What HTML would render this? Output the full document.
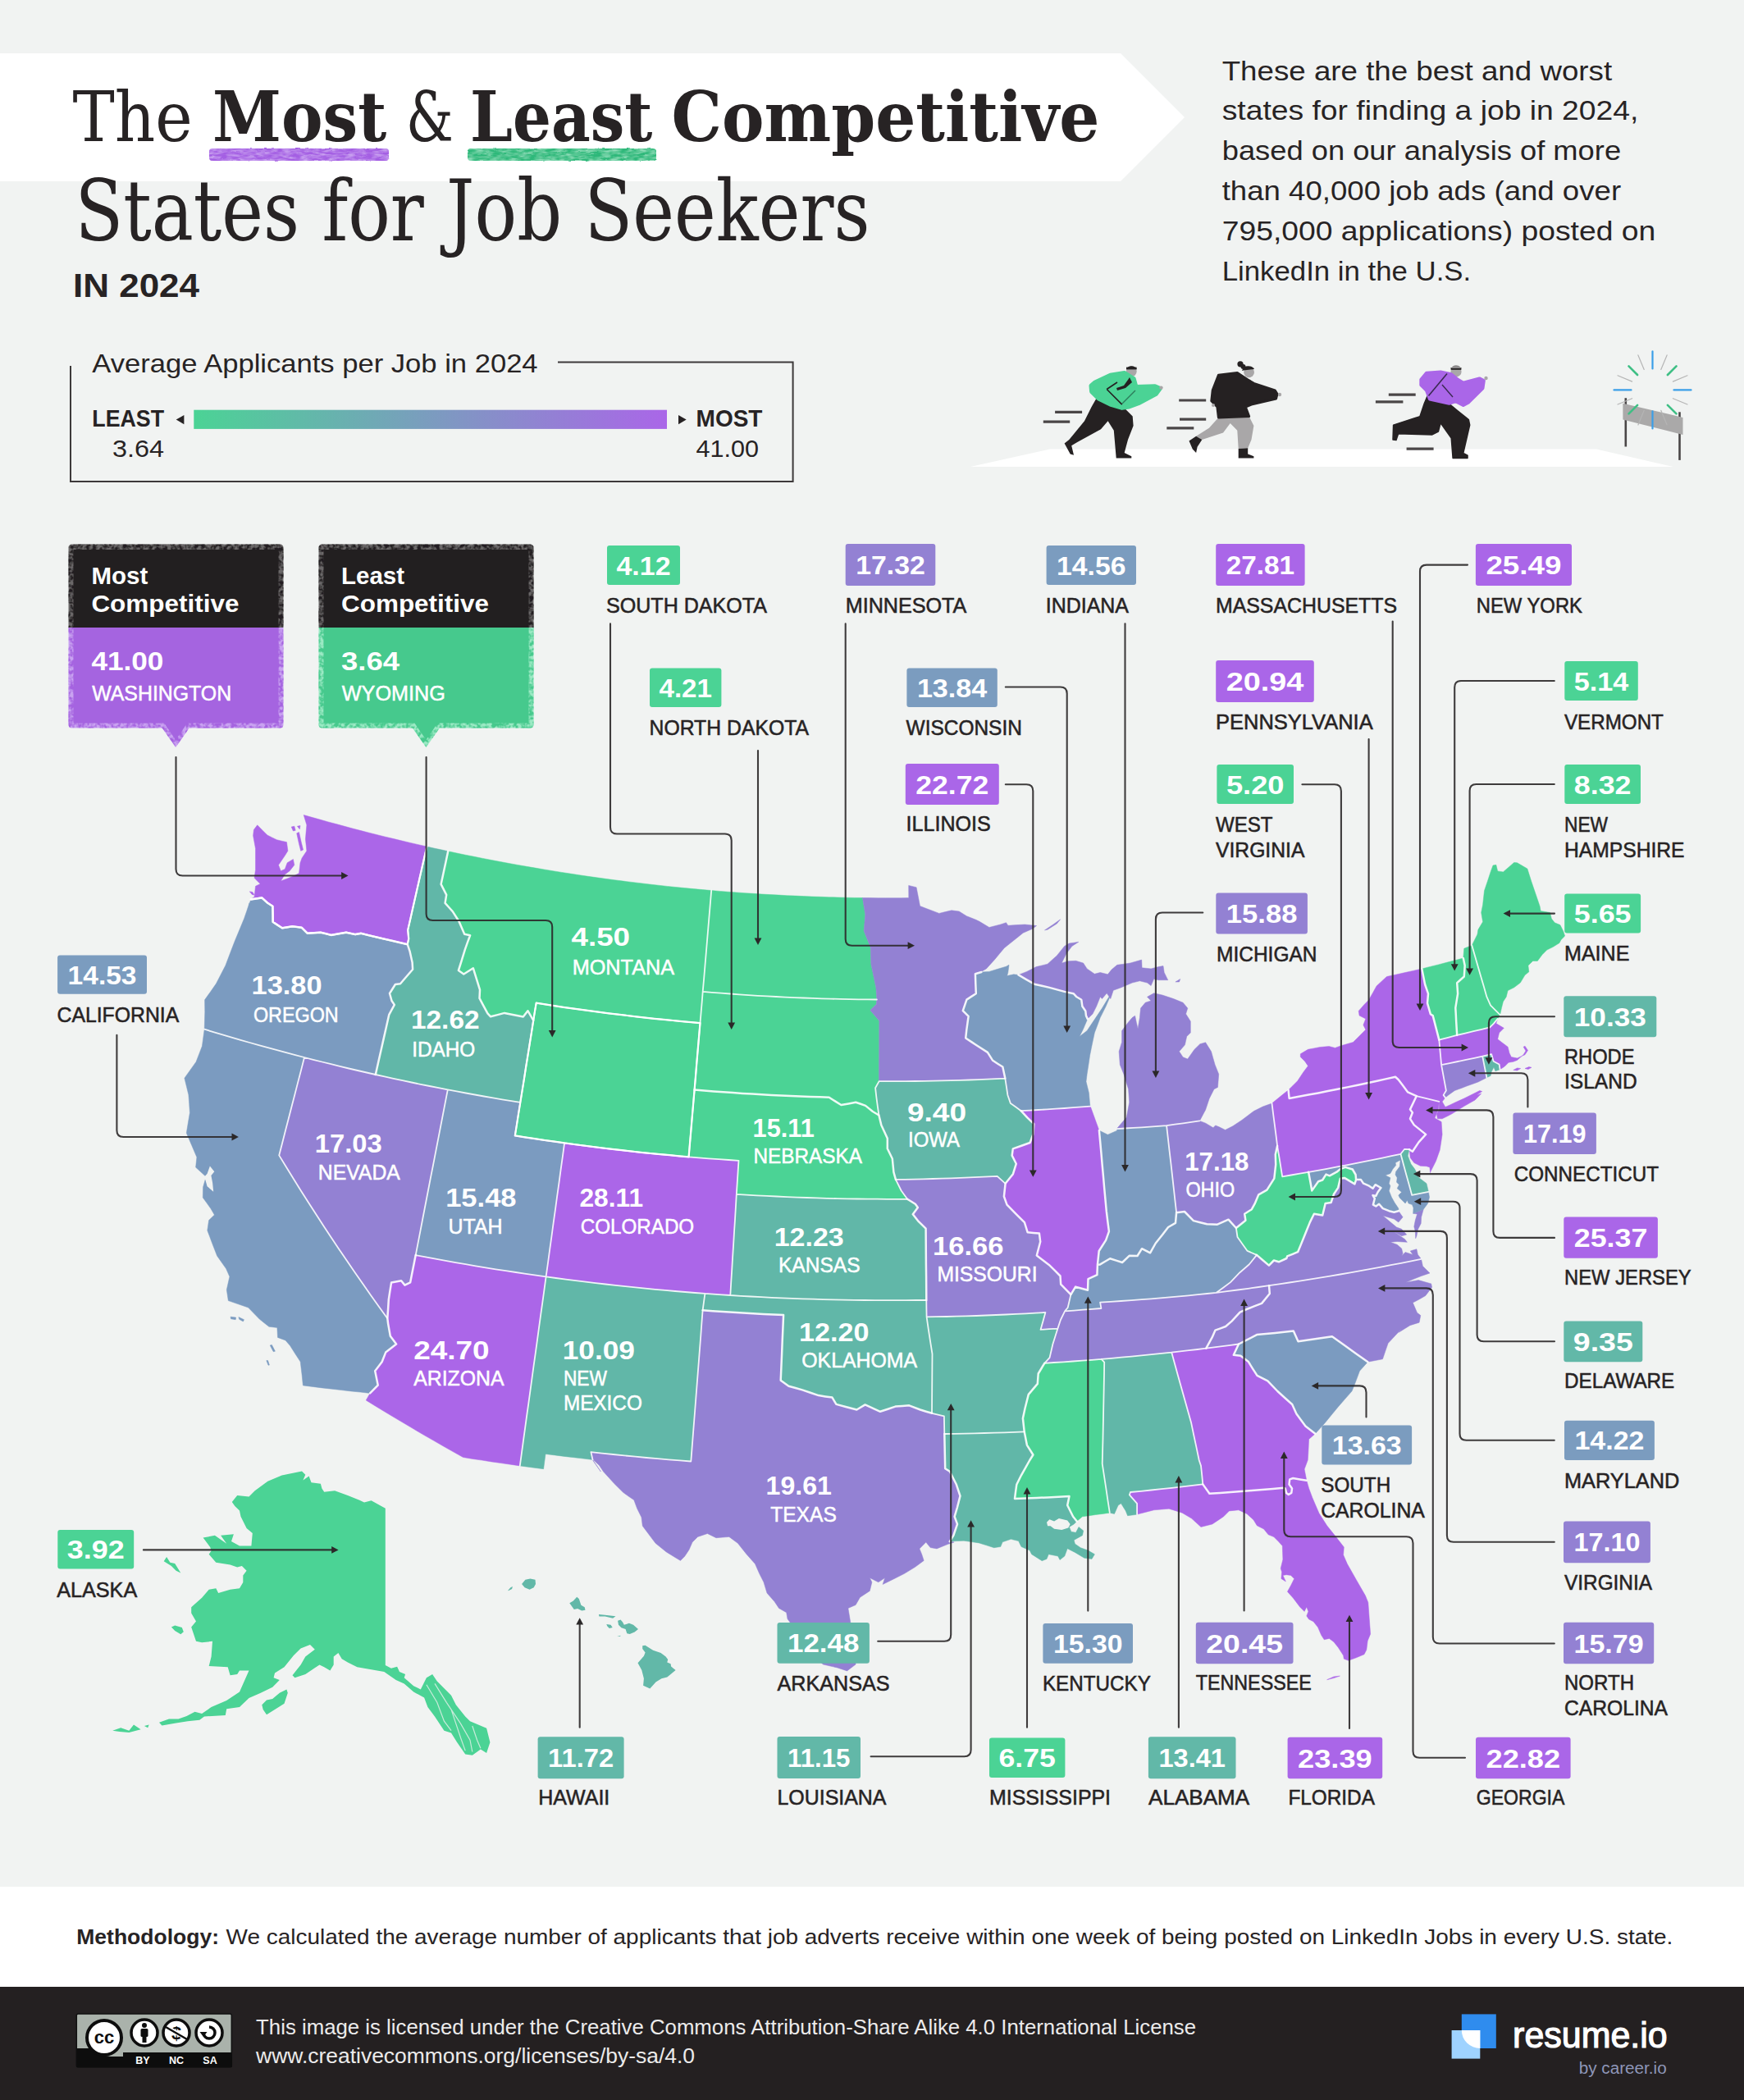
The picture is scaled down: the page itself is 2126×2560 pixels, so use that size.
<!DOCTYPE html>
<html lang="en"><head><meta charset="utf-8"><title>The Most &amp; Least Competitive States for Job Seekers in 2024</title>
<style>html,body{margin:0;padding:0;background:#f1f3f2}body{width:2126px;height:2560px;overflow:hidden}</style></head>
<body>
<svg width="2126" height="2560" viewBox="0 0 2126 2560" style="display:block">
<rect width="2126" height="2560" fill="#f1f3f2"/>
<polygon points="0,65 1366,65 1444,143 1366,221 0,221" fill="#ffffff"/>
<defs><filter id="rough" x="-2%" y="-20%" width="104%" height="140%"><feTurbulence type="fractalNoise" baseFrequency="0.09 0.35" numOctaves="2" seed="7" result="n"/><feColorMatrix in="n" type="matrix" values="0 0 0 0 0  0 0 0 0 0  0 0 0 0 0  0 0 0 -2.2 1.75" result="a"/><feComposite in="SourceGraphic" in2="a" operator="in" result="c"/><feDisplacementMap in="c" in2="n" scale="3" xChannelSelector="R" yChannelSelector="G"/></filter></defs>
<rect x="255" y="181" width="219" height="15" rx="4" fill="#c9a2f0"/>
<rect x="570" y="181" width="230" height="15" rx="4" fill="#8fdcb8"/>
<rect x="255" y="181" width="219" height="15" rx="4" fill="#a45fe3" filter="url(#rough)"/>
<rect x="570" y="181" width="230" height="15" rx="4" fill="#2fb87a" filter="url(#rough)"/>
<text x="88.4" y="172.4" font-family="DejaVu Serif, Liberation Serif, serif" font-size="85.0" font-weight="400" fill="#272324" textLength="146.3" lengthAdjust="spacingAndGlyphs">The</text>
<text x="259.0" y="172.4" font-family="DejaVu Serif, Liberation Serif, serif" font-size="85.0" font-weight="700" fill="#272324" textLength="212.2" lengthAdjust="spacingAndGlyphs">Most</text>
<text x="495.0" y="172.4" font-family="DejaVu Serif, Liberation Serif, serif" font-size="85.0" font-weight="400" fill="#272324" textLength="57.8" lengthAdjust="spacingAndGlyphs">&amp;</text>
<text x="573.0" y="172.4" font-family="DejaVu Serif, Liberation Serif, serif" font-size="85.0" font-weight="700" fill="#272324" textLength="222.4" lengthAdjust="spacingAndGlyphs">Least</text>
<text x="818.6" y="172.4" font-family="DejaVu Serif, Liberation Serif, serif" font-size="85.0" font-weight="700" fill="#272324" textLength="521.7" lengthAdjust="spacingAndGlyphs">Competitive</text>
<text x="91.4" y="292.8" font-family="DejaVu Serif, Liberation Serif, serif" font-size="102.0" font-weight="400" fill="#272324" textLength="969.2" lengthAdjust="spacingAndGlyphs">States for Job Seekers</text>
<text x="89.0" y="362.0" font-family="Liberation Sans, sans-serif" font-size="40.5" font-weight="700" fill="#272324" textLength="154.0" lengthAdjust="spacingAndGlyphs">IN 2024</text>
<text x="1489.7" y="97.5" font-family="Liberation Sans, sans-serif" font-size="34.0" font-weight="400" fill="#272324" textLength="475.4" lengthAdjust="spacingAndGlyphs">These are the best and worst</text>
<text x="1489.7" y="146.3" font-family="Liberation Sans, sans-serif" font-size="34.0" font-weight="400" fill="#272324" textLength="507.7" lengthAdjust="spacingAndGlyphs">states for finding a job in 2024,</text>
<text x="1489.7" y="195.1" font-family="Liberation Sans, sans-serif" font-size="34.0" font-weight="400" fill="#272324" textLength="486.4" lengthAdjust="spacingAndGlyphs">based on our analysis of more</text>
<text x="1489.7" y="243.9" font-family="Liberation Sans, sans-serif" font-size="34.0" font-weight="400" fill="#272324" textLength="486.4" lengthAdjust="spacingAndGlyphs">than 40,000 job ads (and over</text>
<text x="1489.7" y="292.7" font-family="Liberation Sans, sans-serif" font-size="34.0" font-weight="400" fill="#272324" textLength="528.5" lengthAdjust="spacingAndGlyphs">795,000 applications) posted on</text>
<text x="1489.7" y="341.5" font-family="Liberation Sans, sans-serif" font-size="34.0" font-weight="400" fill="#272324" textLength="303.5" lengthAdjust="spacingAndGlyphs">LinkedIn in the U.S.</text>
<path d="M680,441.5 H966.6 V587 H86 V446" fill="none" stroke="#3d393a" stroke-width="2"/>
<text x="112.3" y="454.0" font-family="Liberation Sans, sans-serif" font-size="31.6" font-weight="400" fill="#272324" textLength="543.3" lengthAdjust="spacingAndGlyphs">Average Applicants per Job in 2024</text>
<defs><linearGradient id="lg" x1="0" x2="1" y1="0" y2="0"><stop offset="0" stop-color="#4bd395"/><stop offset="0.5" stop-color="#7b9cbf"/><stop offset="1" stop-color="#aa66e8"/></linearGradient></defs>
<rect x="236.3" y="499.7" width="576.7" height="23.2" fill="url(#lg)"/>
<polygon points="214.7,511.6 224.4,506 224.4,517.2" fill="#272324"/>
<polygon points="836.7,511.6 827,506 827,517.2" fill="#272324"/>
<text x="112.3" y="519.7" font-family="Liberation Sans, sans-serif" font-size="29.3" font-weight="700" fill="#272324" textLength="87.8" lengthAdjust="spacingAndGlyphs">LEAST</text>
<text x="137.0" y="557.4" font-family="Liberation Sans, sans-serif" font-size="30.0" font-weight="400" fill="#272324" textLength="63.0" lengthAdjust="spacingAndGlyphs">3.64</text>
<text x="848.6" y="519.7" font-family="Liberation Sans, sans-serif" font-size="29.3" font-weight="700" fill="#272324" textLength="80.8" lengthAdjust="spacingAndGlyphs">MOST</text>
<text x="848.6" y="557.4" font-family="Liberation Sans, sans-serif" font-size="30.0" font-weight="400" fill="#272324" textLength="76.4" lengthAdjust="spacingAndGlyphs">41.00</text>
<polygon points="1183,569 1280,547.5 1946,547.5 2040,569" fill="#ffffff"/>
<line x1="1286.1" y1="502.3" x2="1319.1" y2="502.3" stroke="#4a4647" stroke-width="3.2"/>
<line x1="1271.8" y1="514.1" x2="1304.2" y2="514.1" stroke="#4a4647" stroke-width="3.2"/>
<line x1="1437.2" y1="488" x2="1470.2" y2="488" stroke="#4a4647" stroke-width="3.2"/>
<line x1="1438" y1="511.2" x2="1470.2" y2="511.2" stroke="#4a4647" stroke-width="3.2"/>
<line x1="1422.3" y1="521.8" x2="1455.3" y2="521.8" stroke="#4a4647" stroke-width="3.2"/>
<line x1="1692.8" y1="481.2" x2="1725.7" y2="481.2" stroke="#4a4647" stroke-width="3.2"/>
<line x1="1676.9" y1="489.9" x2="1710.4" y2="489.9" stroke="#4a4647" stroke-width="3.2"/>
<line x1="1714.6" y1="547.2" x2="1747.6" y2="547.2" stroke="#4a4647" stroke-width="3.2"/>
<polygon points="1336.3,486.0 1370.7,497.4 1380.7,507.5 1381.6,518.9 1375.0,536.1 1370.7,551.9 1379.3,556.2 1379.3,558.5 1360.7,558.5 1357.8,524.7 1350.6,513.2 1342.0,523.2 1313.3,539.0 1306.2,543.3 1309.0,554.8 1304.7,553.4 1297.6,540.4 1303.3,536.1 1322.0,513.2 1330.6,496.0" fill="#252122"/>
<circle cx="1379.3" cy="452.6" r="6.4" fill="#a9a7a8"/><path d="M1373.2,450.6 A6.4,6.4 0 0 1 1385.4,450.6 L1385.4,449 L1373.2,449 Z" fill="#252122"/><rect x="1373" y="447.6" width="12.6" height="2.8" fill="#252122"/>
<polygon points="1334.9,465.9 1353.5,457.3 1370.7,454.4 1382.2,461.6 1385.0,471.6 1408.0,470.8 1414.3,473.6 1409.4,480.2 1387.9,491.7 1376.4,496.0 1367.8,497.4 1353.5,493.1 1339.2,486.0 1330.6,477.4 1330.0,470.2" fill="#4bd395" stroke="#4bd395" stroke-width="5" stroke-linejoin="round"/>
<path d="M1377,460 L1380,466 L1372,473 L1362,476 L1361,473 L1370,470 L1375,463 Z" fill="#252122"/>
<path d="M1349.2,474.5 L1367.8,493.1 M1349.2,474.5 L1362,466" fill="none" stroke="#252122" stroke-width="1.6"/>
<path d="M1368,492 L1384,476" fill="none" stroke="#2c7f5c" stroke-width="1.4"/>
<circle cx="1415.5" cy="472.6" r="2.2" fill="#a9a7a8"/>
<polygon points="1485.4,508.9 1522.6,507.5 1528.4,518.9 1525.5,536.1 1521.2,546.2 1509.7,547.0 1508.3,524.7 1499.7,516.1 1491.1,527.5 1465.3,536.1 1458.1,531.8 1473.9,521.8" fill="#a9a7a8"/>
<polygon points="1449.5,537.6 1458.1,531.8 1465.3,536.1 1459.6,544.7 1458.1,551.9 1453.8,547.6" fill="#252122"/>
<polygon points="1509.7,547.0 1521.2,546.2 1521.2,553.4 1528.4,556.2 1528.4,558.5 1509.7,558.5" fill="#252122"/>
<circle cx="1522.6" cy="453.8" r="6.4" fill="#a9a7a8"/><path d="M1514,452 Q1516,445 1524,446.5 Q1528,447.5 1529,450 L1516,451.5 Z" fill="#252122"/><circle cx="1512" cy="443.8" r="3.6" fill="#252122"/><circle cx="1515.5" cy="447" r="3" fill="#252122"/>
<polygon points="1485.4,457.3 1508.3,454.4 1521.2,463.0 1528.4,467.3 1554.2,475.9 1557.0,480.2 1555.6,486.0 1525.5,493.1 1518.3,496.0 1522.6,507.5 1485.4,508.9 1483.9,496.0 1476.8,488.8 1478.2,475.9" fill="#252122" stroke="#252122" stroke-width="3" stroke-linejoin="round"/>
<circle cx="1560" cy="481" r="2.2" fill="#a9a7a8"/><circle cx="1479" cy="494" r="2" fill="#a9a7a8"/>
<polygon points="1740.2,482.5 1766.6,492.3 1777.2,501.0 1790.3,511.5 1791.7,518.1 1783.8,552.4 1789.0,555.1 1789.0,558.5 1771.1,558.5 1769.2,534.0 1756.1,515.5 1753.4,526.1 1745.5,530.0 1704.6,528.7 1702.0,536.6 1698.0,536.1 1698.6,518.1 1731.0,507.6 1736.3,491.8" fill="#252122" stroke="#252122" stroke-width="1.5" stroke-linejoin="round"/>
<circle cx="1775" cy="452.9" r="6.6" fill="#a9a7a8"/><rect x="1768.6" y="448" width="12.8" height="2.8" fill="#252122"/><path d="M1769,449 A6.6,6.6 0 0 1 1781,449 Z" fill="#8d8b8c"/>
<polygon points="1732.3,462.8 1738.9,454.8 1756.1,453.5 1769.2,456.2 1777.2,462.8 1783.8,466.7 1803.5,461.4 1808.8,464.1 1807.5,473.3 1790.3,490.4 1783.8,493.9 1774.5,489.1 1766.6,491.8 1742.9,486.5 1738.9,475.9 1732.3,469.3" fill="#aa66e8" stroke="#aa66e8" stroke-width="4" stroke-linejoin="round"/>
<path d="M1764,455.4 L1741.5,482.5" stroke="#3b2a52" stroke-width="1.6"/><path d="M1758,469 L1771,484" stroke="#3b2a52" stroke-width="1.4"/>
<circle cx="1811.5" cy="461" r="2.2" fill="#a9a7a8"/>
<line x1="1981.8" y1="485.2" x2="1981.8" y2="544.5" stroke="#4a4647" stroke-width="2.6"/>
<line x1="2047.5" y1="502.3" x2="2047.5" y2="560.9" stroke="#4a4647" stroke-width="2.6"/>
<polygon points="1978.4,491.8 2051.5,508.9 2051.5,530 1978.4,511.5" fill="#aaa9a9"/>
<line x1="2040.5" y1="475.4" x2="2061.5" y2="475.4" stroke="#3b9fe8" stroke-width="2.2" stroke-linecap="round"/>
<line x1="2014.5" y1="501.4" x2="2014.5" y2="522.4" stroke="#3b9fe8" stroke-width="2.2" stroke-linecap="round"/>
<line x1="1988.5" y1="475.4" x2="1967.5" y2="475.4" stroke="#3b9fe8" stroke-width="2.2" stroke-linecap="round"/>
<line x1="2014.5" y1="449.4" x2="2014.5" y2="428.4" stroke="#3b9fe8" stroke-width="2.2" stroke-linecap="round"/>
<line x1="2032.9" y1="493.8" x2="2043.5" y2="504.4" stroke="#3fbf85" stroke-width="2.6" stroke-linecap="round"/>
<line x1="1996.1" y1="493.8" x2="1985.5" y2="504.4" stroke="#3fbf85" stroke-width="2.6" stroke-linecap="round"/>
<line x1="1996.1" y1="457.0" x2="1985.5" y2="446.4" stroke="#3fbf85" stroke-width="2.6" stroke-linecap="round"/>
<line x1="2032.9" y1="457.0" x2="2043.5" y2="446.4" stroke="#3fbf85" stroke-width="2.6" stroke-linecap="round"/>
<line x1="2039.4" y1="485.7" x2="2057.0" y2="493.0" stroke="#b5b5b5" stroke-width="1.2" stroke-linecap="round"/>
<line x1="2024.8" y1="500.3" x2="2032.1" y2="517.9" stroke="#b5b5b5" stroke-width="1.2" stroke-linecap="round"/>
<line x1="2004.2" y1="500.3" x2="1996.9" y2="517.9" stroke="#b5b5b5" stroke-width="1.2" stroke-linecap="round"/>
<line x1="1989.6" y1="485.7" x2="1972.0" y2="493.0" stroke="#b5b5b5" stroke-width="1.2" stroke-linecap="round"/>
<line x1="1989.6" y1="465.1" x2="1972.0" y2="457.8" stroke="#b5b5b5" stroke-width="1.2" stroke-linecap="round"/>
<line x1="2004.2" y1="450.5" x2="1996.9" y2="432.9" stroke="#b5b5b5" stroke-width="1.2" stroke-linecap="round"/>
<line x1="2024.8" y1="450.5" x2="2032.1" y2="432.9" stroke="#b5b5b5" stroke-width="1.2" stroke-linecap="round"/>
<line x1="2039.4" y1="465.1" x2="2057.0" y2="457.8" stroke="#b5b5b5" stroke-width="1.2" stroke-linecap="round"/>
<g>
<path d="M305.8,1096.4 310.1,1093.2 311.5,1080.3 317.2,1077.5 312.9,1073.2 310.1,1070.3 311.5,1060.3 311.5,1047.4 311.5,1034.5 308.6,1018.7 309.4,1011.5 313.7,1005.8 319.7,1011.9 325.8,1018.0 331.6,1020.9 337.3,1023.7 343.4,1025.2 349.5,1026.6 350.9,1037.3 347.3,1043.1 339.5,1054.5 342.3,1061.7 347.3,1059.6 350.2,1051.7 357.4,1047.4 358.8,1054.5 353.1,1061.7 347.3,1066.0 342.3,1073.9 350.2,1071.0 358.8,1067.4 364.5,1064.6 366.0,1051.7 368.1,1045.9 373.9,1037.3 372.4,1023.0 373.1,1014.4 373.9,1005.8 370.2,993.5 380.1,996.3 390.0,999.1 400.0,1001.9 410.0,1004.6 420.0,1007.3 429.9,1010.0 439.9,1012.6 450.0,1015.2 460.0,1017.7 470.0,1020.2 480.1,1022.6 490.1,1025.0 500.2,1027.4 510.2,1029.7 520.3,1032.0 517.0,1046.5 513.7,1061.0 510.4,1075.5 507.1,1090.0 503.8,1104.6 500.5,1119.2 497.2,1133.8 498.2,1144.4 496.7,1151.2 487.2,1149.0 477.7,1146.8 468.3,1144.6 458.8,1142.4 449.3,1140.1 439.9,1137.8 433.2,1139.1 422.0,1136.7 412.8,1138.3 403.6,1139.9 397.4,1138.3 391.2,1136.7 383.0,1137.2 374.7,1137.7 367.8,1130.8 362.1,1130.0 356.4,1129.3 344.0,1131.3 338.3,1127.6 332.7,1123.9 332.6,1114.3 332.4,1104.7 326.2,1100.7 319.2,1094.4 312.5,1095.4 305.8,1096.4ZM361.7,1015.8 364.5,1014.4 367.4,1027.3 369.6,1035.9 366.7,1037.3 364.5,1028.7ZM355.2,1008.0 358.8,1007.2 360.2,1012.3 357.4,1013.0ZM362.4,1007.2 366.0,1006.5 365.3,1010.8ZM304.3,1086.8 307.9,1087.5 310.1,1091.1 307.2,1090.4Z" fill="#ab66e8" stroke="#ab66e8" stroke-width="0.5"/>
<path d="M249.2,1254.7 249.5,1244.1 249.8,1233.4 249.6,1218.8 256.6,1209.0 263.5,1199.1 269.2,1188.0 274.9,1176.9 280.7,1161.6 286.6,1146.3 292.1,1133.1 297.6,1119.8 300.9,1110.2 304.1,1100.5 303.6,1103.3 305.8,1096.4 312.5,1095.4 319.2,1094.4 326.2,1100.7 332.4,1104.7 332.6,1114.3 332.7,1123.9 338.3,1127.6 344.0,1131.3 356.4,1129.3 362.1,1130.0 367.8,1130.8 374.7,1137.7 383.0,1137.2 391.2,1136.7 397.4,1138.3 403.6,1139.9 412.8,1138.3 422.0,1136.7 433.2,1139.1 439.9,1137.8 449.3,1140.1 458.8,1142.4 468.3,1144.6 477.7,1146.8 487.2,1149.0 496.7,1151.2 499.7,1160.2 502.6,1173.3 503.1,1181.8 494.0,1192.3 488.0,1199.3 481.9,1200.0 475.0,1211.0 477.5,1220.0 480.8,1224.9 474.3,1236.8 471.0,1251.5 467.7,1266.1 464.4,1280.7 461.1,1295.3 457.8,1310.0 446.9,1307.5 436.0,1305.0 425.2,1302.5 414.3,1299.9 403.5,1297.2 392.6,1294.5 381.8,1291.8 371.0,1289.0 359.9,1286.1 348.8,1283.2 337.7,1280.2 326.6,1277.2 315.5,1274.1 304.4,1271.0 293.3,1267.8 282.3,1264.6 271.3,1261.4 260.2,1258.1 249.2,1254.7Z" fill="#7b9bc0" stroke="#7b9bc0" stroke-width="0.5"/>
<path d="M249.2,1254.7 260.2,1258.1 271.3,1261.4 282.3,1264.6 293.3,1267.8 304.4,1271.0 315.5,1274.1 326.6,1277.2 337.7,1280.2 348.8,1283.2 359.9,1286.1 371.0,1289.0 367.2,1303.9 363.3,1318.9 359.5,1333.8 355.6,1348.7 351.8,1363.6 347.9,1378.5 344.1,1393.5 340.2,1408.4 349.0,1422.8 357.8,1437.1 366.8,1451.4 375.9,1465.8 385.1,1480.0 394.3,1494.3 403.7,1508.5 413.2,1522.7 422.8,1536.8 432.5,1551.0 442.3,1565.1 452.2,1579.2 462.2,1593.2 472.3,1607.2 473.1,1613.6 475.8,1628.8 483.1,1638.6 470.2,1648.6 465.6,1660.3 457.2,1671.2 460.7,1688.6 451.1,1698.4 439.4,1697.1 427.8,1695.9 416.1,1694.6 404.4,1693.2 392.7,1691.9 381.1,1690.4 369.4,1688.9 368.0,1675.2 366.2,1660.1 359.8,1650.2 353.5,1640.3 348.0,1633.9 338.5,1630.4 337.9,1618.4 327.9,1617.3 322.1,1612.7 316.3,1608.1 309.5,1601.1 302.7,1594.0 290.5,1589.8 278.3,1585.6 276.3,1572.3 279.9,1556.3 275.6,1546.6 270.1,1538.8 264.6,1530.9 258.6,1515.4 252.8,1499.9 254.6,1487.6 261.4,1481.0 256.9,1473.3 252.1,1466.6 247.3,1459.9 247.6,1447.1 250.4,1437.3 256.6,1439.0 256.7,1432.6 251.2,1434.5 244.9,1428.8 238.6,1423.1 239.9,1410.7 233.6,1395.9 227.3,1381.2 229.3,1368.9 231.4,1356.6 230.7,1345.7 229.9,1334.7 227.4,1324.5 224.9,1314.3 231.9,1304.4 239.0,1294.5 242.7,1284.9 246.4,1275.3 247.8,1265.0 249.2,1254.7ZM281.0,1605.2 287.6,1606.1 287.2,1608.7 281.5,1607.8ZM290.9,1605.6 297.5,1608.7 296.4,1610.9 291.6,1608.3ZM329.2,1640.0 331.4,1639.4 335.4,1647.2 333.2,1647.7ZM324.8,1658.6 326.6,1658.6 328.4,1664.1 327.0,1664.3Z" fill="#7b9bc0" stroke="#7b9bc0" stroke-width="0.5"/>
<path d="M371.0,1289.0 381.8,1291.8 392.6,1294.5 403.5,1297.2 414.3,1299.9 425.2,1302.5 436.0,1305.0 446.9,1307.5 457.8,1310.0 468.8,1312.4 479.7,1314.8 490.7,1317.2 501.7,1319.5 512.7,1321.8 523.7,1324.0 534.7,1326.2 545.8,1328.3 542.8,1343.8 539.8,1359.3 536.8,1374.8 533.8,1390.4 530.8,1405.9 527.8,1421.4 524.7,1436.9 521.7,1452.5 518.7,1468.0 515.7,1483.5 512.7,1499.1 509.7,1514.6 506.7,1530.1 504.5,1541.2 502.3,1552.3 500.1,1563.4 493.5,1566.6 489.1,1561.2 477.1,1563.4 475.4,1573.8 473.8,1584.2 473.1,1595.7 472.3,1607.2 462.2,1593.2 452.2,1579.2 442.3,1565.1 432.5,1551.0 422.8,1536.8 413.2,1522.7 403.7,1508.5 394.3,1494.3 385.1,1480.0 375.9,1465.8 366.8,1451.4 357.8,1437.1 349.0,1422.8 340.2,1408.4 344.1,1393.5 347.9,1378.5 351.8,1363.6 355.6,1348.7 359.5,1333.8 363.3,1318.9 367.2,1303.9 371.0,1289.0Z" fill="#9381d3" stroke="#9381d3" stroke-width="0.5"/>
<path d="M520.3,1032.0 529.0,1034.0 537.6,1035.8 546.2,1037.7 543.4,1051.1 540.5,1064.5 537.6,1077.9 544.2,1090.9 542.6,1100.9 547.2,1106.0 551.8,1111.1 559.4,1123.0 566.2,1138.8 573.1,1140.2 569.9,1148.9 566.8,1157.6 562.6,1171.3 558.9,1183.0 565.3,1187.5 576.8,1180.2 580.9,1193.4 585.0,1206.7 584.5,1216.9 589.4,1226.1 594.4,1235.4 598.1,1239.3 606.6,1237.1 615.0,1234.9 626.4,1237.2 637.8,1239.5 643.4,1232.2 650.2,1244.0 648.0,1258.3 645.7,1272.5 643.4,1286.8 641.1,1301.0 638.9,1315.3 636.6,1329.6 634.3,1343.9 623.2,1342.1 612.1,1340.3 601.0,1338.4 590.0,1336.5 578.9,1334.5 567.9,1332.5 556.8,1330.4 545.8,1328.3 534.7,1326.2 523.7,1324.0 512.7,1321.8 501.7,1319.5 490.7,1317.2 479.7,1314.8 468.8,1312.4 457.8,1310.0 461.1,1295.3 464.4,1280.7 467.7,1266.1 471.0,1251.5 474.3,1236.8 480.8,1224.9 477.5,1220.0 475.0,1211.0 481.9,1200.0 488.0,1199.3 494.0,1192.3 503.1,1181.8 502.6,1173.3 499.7,1160.2 496.7,1151.2 498.2,1144.4 497.2,1133.8 500.5,1119.2 503.8,1104.6 507.1,1090.0 510.4,1075.5 513.7,1061.0 517.0,1046.5 520.3,1032.0Z" fill="#61b7a8" stroke="#61b7a8" stroke-width="0.5"/>
<path d="M546.2,1037.7 556.8,1040.0 567.4,1042.2 578.0,1044.3 588.6,1046.4 599.3,1048.5 609.9,1050.5 620.5,1052.5 631.2,1054.4 641.9,1056.3 652.5,1058.1 663.2,1059.9 673.9,1061.7 684.6,1063.4 695.3,1065.1 706.0,1066.7 716.7,1068.3 727.4,1069.8 738.1,1071.3 748.8,1072.7 759.6,1074.1 770.3,1075.4 781.1,1076.7 791.8,1078.0 802.6,1079.2 813.3,1080.4 824.1,1081.5 834.9,1082.6 845.6,1083.6 856.4,1084.6 867.2,1085.5 865.9,1100.9 864.6,1116.2 863.3,1131.6 862.0,1147.0 860.7,1162.5 859.4,1177.9 858.1,1193.4 856.7,1208.9 855.7,1221.6 854.6,1234.3 853.5,1247.1 842.3,1246.1 831.2,1245.1 820.1,1244.0 808.9,1242.9 797.8,1241.8 786.7,1240.6 775.6,1239.3 764.5,1238.0 753.3,1236.7 742.2,1235.3 731.2,1233.9 720.1,1232.4 709.0,1230.9 697.9,1229.4 686.8,1227.8 675.8,1226.1 664.7,1224.4 653.7,1222.7 651.9,1233.4 650.2,1244.0 643.4,1232.2 637.8,1239.5 626.4,1237.2 615.0,1234.9 606.6,1237.1 598.1,1239.3 594.4,1235.4 589.4,1226.1 584.5,1216.9 585.0,1206.7 580.9,1193.4 576.8,1180.2 565.3,1187.5 558.9,1183.0 562.6,1171.3 566.8,1157.6 569.9,1148.9 573.1,1140.2 566.2,1138.8 559.4,1123.0 551.8,1111.1 547.2,1106.0 542.6,1100.9 544.2,1090.9 537.6,1077.9 540.5,1064.5 543.4,1051.1 546.2,1037.7Z" fill="#4bd395" stroke="#4bd395" stroke-width="0.5"/>
<path d="M650.2,1244.0 651.9,1233.4 653.7,1222.7 664.7,1224.4 675.8,1226.1 686.8,1227.8 697.9,1229.4 709.0,1230.9 720.1,1232.4 731.2,1233.9 742.2,1235.3 753.3,1236.7 764.5,1238.0 775.6,1239.3 786.7,1240.6 797.8,1241.8 808.9,1242.9 820.1,1244.0 831.2,1245.1 842.3,1246.1 853.5,1247.1 852.1,1263.3 850.7,1279.6 849.3,1295.9 848.0,1312.2 846.6,1328.6 845.2,1344.9 843.8,1361.2 842.4,1377.6 841.0,1393.9 839.6,1410.3 828.0,1409.3 816.3,1408.2 804.6,1407.1 792.9,1406.0 781.3,1404.8 769.6,1403.5 757.9,1402.2 746.3,1400.9 734.7,1399.5 723.0,1398.0 711.4,1396.5 699.8,1395.0 688.1,1393.4 676.1,1391.7 664.0,1390.0 651.9,1388.2 639.9,1386.3 627.8,1384.4 630.0,1370.9 632.1,1357.4 634.3,1343.9 636.6,1329.6 638.9,1315.3 641.1,1301.0 643.4,1286.8 645.7,1272.5 648.0,1258.3 650.2,1244.0Z" fill="#4bd395" stroke="#4bd395" stroke-width="0.5"/>
<path d="M545.8,1328.3 556.8,1330.4 567.9,1332.5 578.9,1334.5 590.0,1336.5 601.0,1338.4 612.1,1340.3 623.2,1342.1 634.3,1343.9 632.1,1357.4 630.0,1370.9 627.8,1384.4 639.9,1386.3 651.9,1388.2 664.0,1390.0 676.1,1391.7 688.1,1393.4 685.9,1409.7 683.6,1426.0 681.4,1442.3 679.1,1458.6 676.9,1474.9 674.6,1491.2 672.4,1507.5 670.1,1523.8 667.9,1540.1 665.6,1556.4 653.4,1554.6 641.1,1552.9 628.8,1551.0 616.6,1549.2 604.3,1547.3 592.1,1545.3 579.9,1543.3 567.6,1541.2 555.4,1539.1 543.2,1536.9 531.0,1534.7 518.9,1532.4 506.7,1530.1 509.7,1514.6 512.7,1499.1 515.7,1483.5 518.7,1468.0 521.7,1452.5 524.7,1436.9 527.8,1421.4 530.8,1405.9 533.8,1390.4 536.8,1374.8 539.8,1359.3 542.8,1343.8 545.8,1328.3Z" fill="#7b9bc0" stroke="#7b9bc0" stroke-width="0.5"/>
<path d="M688.1,1393.4 699.8,1395.0 711.4,1396.5 723.0,1398.0 734.7,1399.5 746.3,1400.9 757.9,1402.2 769.6,1403.5 781.3,1404.8 792.9,1406.0 804.6,1407.1 816.3,1408.2 828.0,1409.3 839.6,1410.3 851.8,1411.3 864.0,1412.3 876.1,1413.2 888.3,1414.0 900.5,1414.8 899.6,1428.5 898.7,1442.2 897.8,1455.8 896.9,1471.2 896.0,1486.6 895.0,1502.0 894.1,1517.4 893.1,1532.8 892.2,1548.2 891.2,1563.6 890.3,1579.0 880.0,1578.3 869.7,1577.6 859.4,1576.9 847.3,1576.0 835.2,1575.0 823.0,1574.0 810.9,1572.9 798.7,1571.8 786.6,1570.6 774.5,1569.4 762.4,1568.2 750.3,1566.9 738.2,1565.5 726.0,1564.1 714.0,1562.6 701.9,1561.1 689.8,1559.6 677.7,1558.0 665.6,1556.4 667.9,1540.1 670.1,1523.8 672.4,1507.5 674.6,1491.2 676.9,1474.9 679.1,1458.6 681.4,1442.3 683.6,1426.0 685.9,1409.7 688.1,1393.4Z" fill="#ab66e8" stroke="#ab66e8" stroke-width="0.5"/>
<path d="M506.7,1530.1 518.9,1532.4 531.0,1534.7 543.2,1536.9 555.4,1539.1 567.6,1541.2 579.9,1543.3 592.1,1545.3 604.3,1547.3 616.6,1549.2 628.8,1551.0 641.1,1552.9 653.4,1554.6 665.6,1556.4 663.5,1571.8 661.4,1587.2 659.2,1602.6 657.1,1617.9 655.0,1633.3 652.9,1648.7 650.7,1664.1 648.6,1679.5 646.5,1694.8 644.4,1710.2 642.2,1725.5 640.1,1740.9 638.0,1756.2 635.9,1771.5 633.8,1786.9 622.2,1785.2 610.7,1783.6 599.1,1781.9 587.6,1780.1 576.0,1778.4 564.5,1776.5 552.5,1769.8 540.5,1763.0 528.5,1756.1 516.6,1749.3 504.8,1742.3 493.0,1735.3 481.2,1728.3 469.5,1721.3 457.9,1714.2 446.2,1707.0 451.1,1698.4 460.7,1688.6 457.2,1671.2 465.6,1660.3 470.2,1648.6 483.1,1638.6 475.8,1628.8 473.1,1613.6 472.3,1607.2 473.1,1595.7 473.8,1584.2 475.4,1573.8 477.1,1563.4 489.1,1561.2 493.5,1566.6 500.1,1563.4 502.3,1552.3 504.5,1541.2 506.7,1530.1Z" fill="#ab66e8" stroke="#ab66e8" stroke-width="0.5"/>
<path d="M665.6,1556.4 677.7,1558.0 689.8,1559.6 701.9,1561.1 714.0,1562.6 726.0,1564.1 738.2,1565.5 750.3,1566.9 762.4,1568.2 774.5,1569.4 786.6,1570.6 798.7,1571.8 810.9,1572.9 823.0,1574.0 835.2,1575.0 847.3,1576.0 859.4,1576.9 858.0,1587.1 856.6,1597.3 855.4,1612.7 854.3,1628.0 853.1,1643.4 851.9,1658.8 850.7,1674.1 849.5,1689.5 848.3,1704.8 847.1,1720.2 845.9,1735.5 844.7,1750.8 843.5,1766.1 842.3,1781.5 828.7,1780.4 815.2,1779.3 801.6,1778.2 788.1,1777.0 774.5,1775.7 761.0,1774.4 747.5,1773.0 733.9,1771.6 720.4,1770.1 722.5,1779.4 711.0,1778.1 699.5,1776.7 688.0,1775.4 676.5,1773.9 665.0,1772.5 663.8,1781.6 662.6,1790.7 653.0,1789.5 643.4,1788.2 633.8,1786.9 635.9,1771.5 638.0,1756.2 640.1,1740.9 642.2,1725.5 644.4,1710.2 646.5,1694.8 648.6,1679.5 650.7,1664.1 652.9,1648.7 655.0,1633.3 657.1,1617.9 659.2,1602.6 661.4,1587.2 663.5,1571.8 665.6,1556.4Z" fill="#61b7a8" stroke="#61b7a8" stroke-width="0.5"/>
<path d="M722.5,1779.4 720.4,1770.1 733.9,1771.6 747.5,1773.0 761.0,1774.4 774.5,1775.7 788.1,1777.0 801.6,1778.2 815.2,1779.3 828.7,1780.4 842.3,1781.5 843.5,1766.1 844.7,1750.8 845.9,1735.5 847.1,1720.2 848.3,1704.8 849.5,1689.5 850.7,1674.1 851.9,1658.8 853.1,1643.4 854.3,1628.0 855.4,1612.7 856.6,1597.3 868.9,1598.2 881.2,1599.0 893.5,1599.8 905.8,1600.5 918.1,1601.2 930.5,1601.9 942.8,1602.5 955.1,1603.0 954.4,1619.0 953.7,1634.9 953.1,1650.8 952.4,1666.8 951.7,1682.7 961.4,1689.7 969.7,1692.0 978.0,1694.4 987.9,1697.8 997.8,1701.1 1006.2,1702.4 1014.5,1703.6 1019.4,1711.9 1031.9,1715.2 1044.4,1718.5 1054.6,1712.4 1063.8,1716.6 1073.0,1720.8 1082.3,1717.7 1091.5,1714.6 1099.9,1714.0 1108.3,1713.3 1121.8,1718.5 1128.9,1720.7 1136.0,1722.8 1143.4,1724.6 1150.9,1726.3 1151.1,1737.1 1151.3,1748.0 1151.6,1762.1 1151.9,1776.1 1152.2,1790.2 1157.8,1793.8 1165.9,1809.8 1170.5,1823.6 1167.0,1837.3 1163.6,1848.8 1167.0,1858.0 1162.4,1871.7 1157.8,1879.1 1163.1,1880.0 1155.2,1882.6 1142.0,1887.9 1134.1,1886.6 1128.8,1880.0 1120.9,1887.9 1123.6,1894.5 1126.2,1902.4 1115.6,1910.3 1102.5,1918.3 1089.3,1924.9 1076.1,1931.4 1078.7,1923.5 1070.8,1928.8 1060.3,1923.5 1062.9,1928.8 1060.3,1939.4 1048.4,1947.3 1043.1,1956.5 1033.9,1960.5 1036.5,1976.3 1038.5,1986.8 1040.5,1997.4 1041.8,2013.2 1043.1,2029.0 1032.6,2036.9 1020.7,2033.0 1012.1,2031.0 1003.5,2029.0 993.6,2021.1 983.8,2013.2 973.2,1997.4 968.6,1988.2 964.0,1978.9 960.0,1973.6 958.7,1965.7 949.5,1960.5 944.2,1952.5 935.0,1942.0 931.0,1928.8 925.7,1918.3 920.5,1906.4 909.9,1894.5 899.4,1881.3 888.8,1873.4 880.9,1874.1 873.0,1874.7 862.4,1869.5 850.6,1873.4 844.0,1880.0 840.0,1889.2 834.7,1897.2 829.5,1902.4 822.9,1898.5 812.3,1891.9 799.1,1881.3 791.2,1870.8 783.3,1860.2 782.0,1849.7 776.7,1839.1 772.8,1828.6 766.1,1824.0 759.6,1819.3 749.0,1808.8 742.4,1801.5 735.8,1794.3 730.6,1786.4 720.0,1776.4 726.2,1785.2 732.4,1794.0 722.5,1779.4Z" fill="#9381d3" stroke="#9381d3" stroke-width="0.5"/>
<path d="M859.4,1576.9 869.7,1577.6 880.0,1578.3 890.3,1579.0 902.9,1579.8 915.4,1580.5 928.0,1581.2 940.6,1581.8 953.1,1582.4 965.7,1582.9 978.3,1583.3 990.9,1583.7 1003.4,1584.1 1016.0,1584.4 1028.6,1584.7 1041.2,1584.9 1053.8,1585.0 1066.3,1585.1 1078.9,1585.2 1091.5,1585.2 1104.1,1585.1 1116.7,1585.0 1129.3,1584.9 1129.4,1595.1 1129.6,1605.4 1131.8,1620.5 1134.1,1635.5 1136.5,1650.5 1136.4,1665.0 1136.3,1679.5 1136.2,1693.9 1136.1,1708.4 1136.0,1722.8 1128.9,1720.7 1121.8,1718.5 1108.3,1713.3 1099.9,1714.0 1091.5,1714.6 1082.3,1717.7 1073.0,1720.8 1063.8,1716.6 1054.6,1712.4 1044.4,1718.5 1031.9,1715.2 1019.4,1711.9 1014.5,1703.6 1006.2,1702.4 997.8,1701.1 987.9,1697.8 978.0,1694.4 969.7,1692.0 961.4,1689.7 951.7,1682.7 952.4,1666.8 953.1,1650.8 953.7,1634.9 954.4,1619.0 955.1,1603.0 942.8,1602.5 930.5,1601.9 918.1,1601.2 905.8,1600.5 893.5,1599.8 881.2,1599.0 868.9,1598.2 856.6,1597.3 858.0,1587.1 859.4,1576.9Z" fill="#61b7a8" stroke="#61b7a8" stroke-width="0.5"/>
<path d="M897.8,1455.8 910.1,1456.6 922.3,1457.3 934.6,1457.9 946.8,1458.5 959.1,1459.1 971.3,1459.6 983.6,1460.0 995.8,1460.4 1008.1,1460.8 1020.3,1461.1 1032.6,1461.3 1044.8,1461.5 1057.1,1461.7 1069.4,1461.7 1081.6,1461.8 1093.9,1461.8 1106.1,1461.7 1115.8,1467.8 1118.9,1471.9 1112.8,1480.2 1119.1,1488.3 1128.6,1497.7 1128.7,1512.2 1128.8,1526.7 1128.9,1541.3 1129.1,1555.8 1129.2,1570.3 1129.3,1584.9 1116.7,1585.0 1104.1,1585.1 1091.5,1585.2 1078.9,1585.2 1066.3,1585.1 1053.8,1585.0 1041.2,1584.9 1028.6,1584.7 1016.0,1584.4 1003.4,1584.1 990.9,1583.7 978.3,1583.3 965.7,1582.9 953.1,1582.4 940.6,1581.8 928.0,1581.2 915.4,1580.5 902.9,1579.8 890.3,1579.0 891.2,1563.6 892.2,1548.2 893.1,1532.8 894.1,1517.4 895.0,1502.0 896.0,1486.6 896.9,1471.2 897.8,1455.8Z" fill="#61b7a8" stroke="#61b7a8" stroke-width="0.5"/>
<path d="M846.6,1328.6 858.3,1329.5 870.0,1330.4 881.7,1331.3 893.4,1332.1 905.1,1332.9 916.9,1333.6 928.6,1334.3 940.3,1334.9 952.1,1335.5 963.8,1336.0 975.5,1336.5 987.3,1337.0 999.0,1337.3 1010.7,1337.7 1018.0,1342.4 1025.4,1347.0 1034.3,1345.4 1043.2,1343.7 1049.2,1345.8 1055.1,1347.9 1063.9,1355.0 1071.4,1359.5 1074.3,1371.4 1078.0,1379.6 1081.8,1387.8 1081.8,1400.2 1087.8,1412.5 1088.6,1420.7 1089.4,1428.9 1091.9,1437.9 1098.7,1451.5 1106.1,1461.7 1093.9,1461.8 1081.6,1461.8 1069.4,1461.7 1057.1,1461.7 1044.8,1461.5 1032.6,1461.3 1020.3,1461.1 1008.1,1460.8 995.8,1460.4 983.6,1460.0 971.3,1459.6 959.1,1459.1 946.8,1458.5 934.6,1457.9 922.3,1457.3 910.1,1456.6 897.8,1455.8 898.7,1442.2 899.6,1428.5 900.5,1414.8 888.3,1414.0 876.1,1413.2 864.0,1412.3 851.8,1411.3 839.6,1410.3 841.0,1393.9 842.4,1377.6 843.8,1361.2 845.2,1344.9 846.6,1328.6Z" fill="#4bd395" stroke="#4bd395" stroke-width="0.5"/>
<path d="M856.7,1208.9 867.9,1209.8 879.0,1210.7 890.2,1211.5 901.3,1212.3 912.5,1213.1 923.6,1213.8 934.8,1214.4 946.0,1215.0 957.1,1215.6 968.3,1216.1 979.5,1216.5 990.7,1216.9 1001.8,1217.3 1013.0,1217.6 1024.2,1217.9 1035.4,1218.1 1046.6,1218.3 1057.7,1218.4 1068.9,1218.5 1068.3,1224.2 1060.9,1231.5 1071.9,1244.6 1071.8,1259.3 1071.8,1274.0 1071.7,1288.7 1071.6,1303.4 1071.6,1318.1 1067.1,1326.3 1068.5,1338.6 1069.9,1349.1 1071.4,1359.5 1063.9,1355.0 1055.1,1347.9 1049.2,1345.8 1043.2,1343.7 1034.3,1345.4 1025.4,1347.0 1018.0,1342.4 1010.7,1337.7 999.0,1337.3 987.3,1337.0 975.5,1336.5 963.8,1336.0 952.1,1335.5 940.3,1334.9 928.6,1334.3 916.9,1333.6 905.1,1332.9 893.4,1332.1 881.7,1331.3 870.0,1330.4 858.3,1329.5 846.6,1328.6 848.0,1312.2 849.3,1295.9 850.7,1279.6 852.1,1263.3 853.5,1247.1 854.6,1234.3 855.7,1221.6 856.7,1208.9Z" fill="#4bd395" stroke="#4bd395" stroke-width="0.5"/>
<path d="M867.2,1085.5 877.4,1086.4 887.7,1087.2 897.9,1087.9 908.1,1088.7 918.3,1089.3 928.6,1090.0 938.8,1090.6 949.0,1091.1 959.3,1091.7 969.5,1092.1 979.8,1092.6 990.0,1093.0 1000.3,1093.3 1010.5,1093.7 1020.8,1093.9 1031.0,1094.2 1041.3,1094.4 1051.5,1094.5 1053.1,1104.6 1054.8,1114.7 1054.0,1124.8 1053.2,1134.9 1057.2,1145.0 1061.3,1155.2 1061.6,1165.3 1061.9,1175.4 1064.9,1189.7 1067.9,1203.9 1068.9,1218.5 1057.7,1218.4 1046.6,1218.3 1035.4,1218.1 1024.2,1217.9 1013.0,1217.6 1001.8,1217.3 990.7,1216.9 979.5,1216.5 968.3,1216.1 957.1,1215.6 946.0,1215.0 934.8,1214.4 923.6,1213.8 912.5,1213.1 901.3,1212.3 890.2,1211.5 879.0,1210.7 867.9,1209.8 856.7,1208.9 858.1,1193.4 859.4,1177.9 860.7,1162.5 862.0,1147.0 863.3,1131.6 864.6,1116.2 865.9,1100.9 867.2,1085.5Z" fill="#4bd395" stroke="#4bd395" stroke-width="0.5"/>
<path d="M1051.5,1094.5 1060.9,1094.6 1070.3,1094.7 1079.7,1094.7 1089.0,1094.7 1098.4,1094.7 1107.8,1094.6 1107.7,1079.4 1117.1,1081.7 1119.3,1093.1 1121.5,1104.5 1129.2,1107.5 1137.0,1110.4 1144.8,1113.4 1152.4,1111.6 1160.0,1109.8 1169.2,1111.0 1178.3,1116.7 1184.1,1119.0 1189.8,1121.3 1194.4,1123.6 1200.1,1127.0 1205.9,1130.5 1212.8,1128.7 1219.6,1127.0 1226.5,1124.7 1228.8,1128.2 1239.1,1127.6 1249.4,1127.0 1256.5,1127.8 1263.6,1128.5 1258.6,1132.3 1252.9,1134.8 1247.2,1137.3 1241.4,1141.9 1235.7,1146.5 1230.0,1151.1 1224.2,1155.7 1218.5,1162.6 1212.8,1169.4 1202.4,1180.9 1192.1,1186.7 1196.3,1185.0 1188.9,1187.3 1189.3,1199.3 1189.8,1211.2 1184.1,1214.9 1178.4,1218.6 1173.8,1232.2 1180.6,1238.9 1178.3,1255.3 1177.2,1265.5 1184.6,1270.4 1192.0,1275.2 1203.9,1282.9 1210.2,1292.8 1216.2,1296.7 1222.3,1300.5 1225.3,1314.6 1214.4,1315.2 1203.4,1315.7 1192.4,1316.1 1181.4,1316.5 1170.4,1316.9 1159.5,1317.2 1148.5,1317.4 1137.5,1317.7 1126.5,1317.9 1115.5,1318.0 1104.5,1318.1 1093.5,1318.2 1082.5,1318.2 1071.6,1318.1 1071.6,1303.4 1071.7,1288.7 1071.8,1274.0 1071.8,1259.3 1071.9,1244.6 1060.9,1231.5 1068.3,1224.2 1068.9,1218.5 1067.9,1203.9 1064.9,1189.7 1061.9,1175.4 1061.6,1165.3 1061.3,1155.2 1057.2,1145.0 1053.2,1134.9 1054.0,1124.8 1054.8,1114.7 1053.1,1104.6 1051.5,1094.5Z" fill="#9381d3" stroke="#9381d3" stroke-width="0.5"/>
<path d="M1071.6,1318.1 1082.5,1318.2 1093.5,1318.2 1104.5,1318.1 1115.5,1318.0 1126.5,1317.9 1137.5,1317.7 1148.5,1317.4 1159.5,1317.2 1170.4,1316.9 1181.4,1316.5 1192.4,1316.1 1203.4,1315.7 1214.4,1315.2 1225.3,1314.6 1226.9,1324.8 1228.4,1335.0 1231.9,1345.1 1238.3,1349.6 1244.7,1354.2 1252.3,1362.4 1260.3,1370.1 1259.5,1382.5 1255.6,1393.0 1245.2,1396.7 1234.8,1400.4 1233.7,1408.6 1238.8,1418.7 1234.9,1431.2 1225.6,1442.8 1215.7,1433.8 1204.4,1434.4 1193.2,1434.9 1181.9,1435.4 1170.7,1435.9 1159.4,1436.3 1148.2,1436.7 1136.9,1437.0 1125.6,1437.3 1114.4,1437.6 1103.1,1437.8 1091.9,1437.9 1089.4,1428.9 1088.6,1420.7 1087.8,1412.5 1081.8,1400.2 1081.8,1387.8 1078.0,1379.6 1074.3,1371.4 1071.4,1359.5 1069.9,1349.1 1068.5,1338.6 1067.1,1326.3 1071.6,1318.1Z" fill="#61b7a8" stroke="#61b7a8" stroke-width="0.5"/>
<path d="M1091.9,1437.9 1103.1,1437.8 1114.4,1437.6 1125.6,1437.3 1136.9,1437.0 1148.2,1436.7 1159.4,1436.3 1170.7,1435.9 1181.9,1435.4 1193.2,1434.9 1204.4,1434.4 1215.7,1433.8 1225.6,1442.8 1223.9,1458.5 1227.5,1468.6 1239.0,1480.4 1248.9,1490.2 1252.7,1502.3 1259.8,1502.9 1266.9,1503.5 1268.2,1513.7 1263.8,1530.5 1271.3,1536.2 1278.8,1541.9 1285.7,1548.7 1292.5,1555.5 1293.2,1565.7 1305.4,1578.1 1301.7,1594.0 1298.1,1598.4 1292.9,1609.0 1289.4,1619.6 1279.0,1620.2 1268.5,1620.9 1271.5,1610.4 1274.4,1599.9 1262.4,1600.6 1250.3,1601.3 1238.2,1601.9 1226.2,1602.5 1214.1,1603.0 1202.0,1603.5 1190.0,1604.0 1177.9,1604.3 1165.8,1604.7 1153.7,1605.0 1141.6,1605.2 1129.6,1605.4 1129.4,1595.1 1129.3,1584.9 1129.2,1570.3 1129.1,1555.8 1128.9,1541.3 1128.8,1526.7 1128.7,1512.2 1128.6,1497.7 1119.1,1488.3 1112.8,1480.2 1118.9,1471.9 1115.8,1467.8 1106.1,1461.7 1098.7,1451.5 1091.9,1437.9Z" fill="#9381d3" stroke="#9381d3" stroke-width="0.5"/>
<path d="M1129.6,1605.4 1141.6,1605.2 1153.7,1605.0 1165.8,1604.7 1177.9,1604.3 1190.0,1604.0 1202.0,1603.5 1214.1,1603.0 1226.2,1602.5 1238.2,1601.9 1250.3,1601.3 1262.4,1600.6 1274.4,1599.9 1271.5,1610.4 1268.5,1620.9 1279.0,1620.2 1289.4,1619.6 1286.4,1629.0 1283.4,1638.5 1279.5,1655.2 1273.3,1661.8 1265.7,1674.5 1264.8,1686.9 1253.8,1699.9 1249.6,1716.5 1246.9,1729.0 1248.7,1745.3 1236.5,1745.8 1224.4,1746.3 1212.2,1746.7 1200.0,1747.0 1187.8,1747.3 1175.7,1747.6 1163.5,1747.8 1151.3,1748.0 1151.1,1737.1 1150.9,1726.3 1143.4,1724.6 1136.0,1722.8 1136.1,1708.4 1136.2,1693.9 1136.3,1679.5 1136.4,1665.0 1136.5,1650.5 1134.1,1635.5 1131.8,1620.5 1129.6,1605.4Z" fill="#61b7a8" stroke="#61b7a8" stroke-width="0.5"/>
<path d="M1151.3,1748.0 1163.5,1747.8 1175.7,1747.6 1187.8,1747.3 1200.0,1747.0 1212.2,1746.7 1224.4,1746.3 1236.5,1745.8 1248.7,1745.3 1251.9,1761.6 1259.4,1773.5 1255.3,1780.0 1250.2,1789.2 1245.0,1798.3 1239.3,1809.8 1238.1,1818.4 1237.0,1827.0 1250.3,1826.5 1263.6,1826.0 1276.9,1825.4 1290.2,1824.7 1303.5,1824.0 1301.2,1835.0 1308.1,1848.8 1312.7,1854.5 1309.2,1858.0 1303.5,1861.4 1305.8,1867.2 1311.5,1868.3 1315.0,1861.4 1320.7,1866.0 1319.5,1871.7 1309.2,1877.5 1310.4,1882.1 1317.2,1886.7 1326.4,1890.1 1334.4,1894.7 1331.0,1900.4 1321.8,1899.3 1310.4,1892.4 1301.2,1887.8 1297.8,1897.0 1292.0,1901.6 1289.7,1897.0 1278.3,1894.7 1276.0,1900.4 1270.2,1902.7 1257.6,1894.7 1255.3,1890.1 1245.0,1885.5 1241.6,1878.6 1232.4,1876.3 1222.1,1879.8 1219.8,1885.5 1211.7,1886.7 1202.6,1883.8 1193.4,1880.9 1184.2,1879.6 1175.0,1878.2 1166.4,1878.6 1157.8,1879.1 1162.4,1871.7 1167.0,1858.0 1163.6,1848.8 1167.0,1837.3 1170.5,1823.6 1165.9,1809.8 1157.8,1793.8 1152.2,1790.2 1151.9,1776.1 1151.6,1762.1 1151.3,1748.0Z" fill="#61b7a8" stroke="#61b7a8" stroke-width="0.5"/>
<path d="M1196.3,1185.0 1205.9,1184.4 1216.2,1181.3 1226.5,1178.2 1230.0,1176.3 1228.8,1185.5 1227.7,1189.6 1235.7,1187.8 1241.5,1188.4 1251.2,1194.1 1260.9,1199.7 1270.1,1201.8 1279.3,1203.9 1288.4,1206.4 1297.6,1208.9 1308.6,1211.2 1312.5,1215.3 1318.3,1218.8 1319.4,1226.8 1323.3,1232.5 1324.0,1238.3 1325.8,1242.1 1320.6,1254.3 1316.0,1263.5 1325.1,1256.6 1334.3,1242.8 1343.5,1229.1 1350.4,1217.6 1355.0,1210.7 1348.1,1226.8 1341.2,1240.6 1337.8,1249.7 1334.3,1258.9 1330.9,1275.0 1328.6,1286.4 1326.9,1297.9 1325.1,1309.4 1324.0,1318.5 1327.4,1332.3 1328.6,1346.1 1329.2,1348.6 1318.7,1349.4 1308.1,1350.2 1297.5,1351.0 1287.0,1351.7 1276.4,1352.4 1265.8,1353.0 1255.2,1353.7 1244.7,1354.2 1238.3,1349.6 1231.9,1345.1 1228.4,1335.0 1226.9,1324.8 1225.3,1314.6 1222.3,1300.5 1216.2,1296.7 1210.2,1292.8 1203.9,1282.9 1192.0,1275.2 1184.6,1270.4 1177.2,1265.5 1178.3,1255.3 1180.6,1238.9 1173.8,1232.2 1178.4,1218.6 1184.1,1214.9 1189.8,1211.2 1189.3,1199.3 1188.9,1187.3 1196.3,1185.0Z" fill="#7b9bc0" stroke="#7b9bc0" stroke-width="0.5"/>
<path d="M1244.7,1354.2 1255.2,1353.7 1265.8,1353.0 1276.4,1352.4 1287.0,1351.7 1297.5,1351.0 1308.1,1350.2 1318.7,1349.4 1329.2,1348.6 1332.9,1358.8 1336.6,1369.0 1339.9,1378.1 1341.2,1392.2 1342.5,1406.3 1343.7,1420.4 1345.0,1434.5 1346.2,1448.5 1347.5,1462.6 1348.8,1476.7 1350.3,1489.0 1351.9,1501.2 1348.1,1511.9 1339.7,1525.0 1338.8,1533.3 1337.9,1541.7 1337.4,1554.1 1326.5,1559.1 1326.0,1572.8 1318.6,1570.7 1311.1,1568.6 1305.4,1578.1 1293.2,1565.7 1292.5,1555.5 1285.7,1548.7 1278.8,1541.9 1271.3,1536.2 1263.8,1530.5 1268.2,1513.7 1266.9,1503.5 1259.8,1502.9 1252.7,1502.3 1248.9,1490.2 1239.0,1480.4 1227.5,1468.6 1223.9,1458.5 1225.6,1442.8 1234.9,1431.2 1238.8,1418.7 1233.7,1408.6 1234.8,1400.4 1245.2,1396.7 1255.6,1393.0 1259.5,1382.5 1260.3,1370.1 1252.3,1362.4 1244.7,1354.2Z" fill="#ab66e8" stroke="#ab66e8" stroke-width="0.5"/>
<path d="M1339.9,1378.1 1350.4,1383.2 1361.8,1378.2 1361.3,1376.1 1371.4,1375.5 1381.6,1374.9 1391.7,1374.3 1401.8,1373.6 1412.0,1372.8 1422.1,1372.1 1423.8,1387.2 1425.5,1402.4 1427.3,1417.5 1429.0,1432.7 1430.7,1447.9 1432.4,1463.1 1434.1,1478.2 1433.0,1490.8 1424.1,1496.0 1417.2,1505.0 1408.8,1515.5 1402.1,1527.3 1392.0,1522.2 1386.5,1531.0 1376.9,1530.7 1368.1,1539.0 1360.7,1536.6 1353.2,1534.2 1347.2,1537.8 1341.1,1541.4 1337.9,1541.7 1338.8,1533.3 1339.7,1525.0 1348.1,1511.9 1351.9,1501.2 1350.3,1489.0 1348.8,1476.7 1347.5,1462.6 1346.2,1448.5 1345.0,1434.5 1343.7,1420.4 1342.5,1406.3 1341.2,1392.2 1339.9,1378.1Z" fill="#7b9bc0" stroke="#7b9bc0" stroke-width="0.5"/>
<path d="M1241.5,1188.4 1251.7,1184.4 1257.5,1181.5 1263.2,1178.6 1270.1,1176.9 1277.0,1175.2 1282.7,1170.0 1288.4,1164.9 1297.6,1153.4 1303.3,1150.0 1309.1,1149.2 1314.8,1148.3 1306.8,1153.4 1299.9,1162.6 1294.2,1174.0 1302.2,1171.7 1311.4,1171.3 1320.6,1174.0 1325.1,1180.9 1334.3,1187.3 1341.2,1185.5 1350.4,1187.8 1355.0,1182.1 1361.8,1176.3 1369.9,1175.2 1377.9,1174.0 1384.8,1172.1 1391.7,1170.1 1392.1,1179.8 1403.1,1180.9 1412.3,1178.6 1418.0,1177.5 1419.2,1185.5 1422.6,1192.4 1423.8,1194.7 1418.0,1194.7 1412.3,1194.7 1406.6,1193.5 1403.1,1201.6 1398.5,1198.1 1389.4,1195.8 1380.2,1198.1 1373.3,1201.0 1366.4,1203.9 1357.2,1207.3 1353.8,1217.6 1349.2,1210.7 1343.5,1217.6 1341.2,1215.3 1336.6,1226.8 1332.0,1236.0 1325.8,1242.1 1324.0,1238.3 1323.3,1232.5 1319.4,1226.8 1318.3,1218.8 1312.5,1215.3 1308.6,1211.2 1297.6,1208.9 1288.4,1206.4 1279.3,1203.9 1270.1,1201.8 1260.9,1199.7 1251.2,1194.1 1241.5,1188.4ZM1361.3,1376.1 1367.3,1369.1 1373.3,1362.1 1375.0,1352.9 1376.7,1343.8 1375.6,1327.7 1372.7,1318.5 1369.9,1309.4 1365.3,1297.9 1364.1,1281.8 1367.6,1270.4 1367.6,1256.6 1374.4,1247.4 1380.2,1240.6 1383.6,1238.3 1385.3,1246.3 1387.1,1254.3 1389.4,1240.6 1390.5,1229.1 1396.2,1222.2 1403.1,1219.9 1398.5,1215.3 1406.6,1210.7 1416.9,1213.0 1423.8,1215.3 1430.6,1217.6 1442.1,1222.2 1447.8,1229.1 1445.6,1236.0 1451.3,1245.1 1451.3,1258.9 1446.7,1263.5 1444.4,1273.8 1437.5,1281.8 1442.1,1288.7 1447.8,1291.0 1455.9,1279.5 1462.8,1272.7 1469.6,1270.8 1476.5,1281.8 1478.8,1289.9 1481.1,1297.9 1485.7,1309.4 1484.5,1325.4 1480.0,1327.7 1474.2,1339.2 1469.6,1352.9 1462.4,1366.4 1452.3,1367.9 1442.3,1369.3 1432.2,1370.7 1422.1,1372.1 1412.0,1372.8 1401.8,1373.6 1391.7,1374.3 1381.6,1374.9 1371.4,1375.5 1361.3,1376.1ZM1273.5,1133.9 1283.9,1127.0 1292.6,1120.8 1288.4,1125.9 1277.0,1133.2ZM1432.9,1197.0 1438.7,1193.5 1437.5,1197.0Z" fill="#9381d3" stroke="#9381d3" stroke-width="0.5"/>
<path d="M1422.1,1372.1 1432.2,1370.7 1442.3,1369.3 1452.3,1367.9 1462.4,1366.4 1469.7,1369.2 1478.9,1374.7 1481.7,1371.9 1486.2,1373.8 1493.6,1377.4 1502.8,1372.8 1513.8,1365.5 1521.1,1360.0 1528.4,1354.5 1539.4,1349.0 1550.5,1345.0 1552.1,1357.9 1553.8,1370.9 1555.5,1383.9 1557.1,1396.9 1554.8,1407.3 1555.2,1419.7 1553.3,1436.7 1544.4,1450.6 1534.3,1456.3 1529.6,1467.4 1525.9,1474.2 1517.2,1479.7 1518.4,1487.8 1506.9,1497.0 1497.5,1486.7 1490.8,1489.7 1484.0,1492.7 1477.6,1492.5 1471.3,1492.3 1463.1,1490.2 1454.9,1488.1 1444.0,1477.0 1434.1,1478.2 1432.4,1463.1 1430.7,1447.9 1429.0,1432.7 1427.3,1417.5 1425.5,1402.4 1423.8,1387.2 1422.1,1372.1Z" fill="#9381d3" stroke="#9381d3" stroke-width="0.5"/>
<path d="M1337.9,1541.7 1341.1,1541.4 1347.2,1537.8 1353.2,1534.2 1360.7,1536.6 1368.1,1539.0 1376.9,1530.7 1386.5,1531.0 1392.0,1522.2 1402.1,1527.3 1408.8,1515.5 1417.2,1505.0 1424.1,1496.0 1433.0,1490.8 1434.1,1478.2 1444.0,1477.0 1454.9,1488.1 1463.1,1490.2 1471.3,1492.3 1477.6,1492.5 1484.0,1492.7 1490.8,1489.7 1497.5,1486.7 1506.9,1497.0 1508.5,1508.0 1514.5,1516.4 1520.6,1524.9 1532.0,1529.9 1522.9,1541.2 1517.2,1546.2 1511.4,1551.2 1500.0,1563.1 1491.5,1569.5 1482.9,1575.8 1471.6,1577.0 1460.2,1578.1 1448.8,1579.3 1437.4,1580.3 1426.0,1581.4 1414.6,1582.4 1403.2,1583.3 1391.8,1584.2 1379.2,1585.2 1366.5,1586.0 1353.8,1586.9 1341.1,1587.6 1342.4,1595.0 1331.3,1595.9 1320.2,1596.7 1309.2,1597.6 1298.1,1598.4 1301.7,1594.0 1305.4,1578.1 1311.1,1568.6 1318.6,1570.7 1326.0,1572.8 1326.5,1559.1 1337.4,1554.1 1337.9,1541.7Z" fill="#7b9bc0" stroke="#7b9bc0" stroke-width="0.5"/>
<path d="M1298.1,1598.4 1309.2,1597.6 1320.2,1596.7 1331.3,1595.9 1342.4,1595.0 1341.1,1587.6 1353.8,1586.9 1366.5,1586.0 1379.2,1585.2 1391.8,1584.2 1403.2,1583.3 1414.6,1582.4 1426.0,1581.4 1437.4,1580.3 1448.8,1579.3 1460.2,1578.1 1471.6,1577.0 1482.9,1575.8 1495.8,1574.2 1508.6,1572.5 1521.4,1570.8 1534.2,1569.0 1547.0,1567.2 1547.8,1577.0 1538.1,1588.9 1529.5,1592.2 1520.9,1595.5 1511.6,1599.7 1501.5,1610.6 1494.1,1617.0 1487.8,1619.3 1481.5,1621.6 1477.6,1630.4 1470.3,1643.7 1459.8,1645.0 1449.3,1646.2 1438.7,1647.4 1428.2,1648.6 1416.0,1649.9 1403.8,1651.2 1391.5,1652.4 1379.3,1653.6 1367.1,1654.7 1354.8,1655.8 1342.6,1656.8 1331.0,1657.8 1319.5,1658.6 1307.9,1659.5 1296.4,1660.3 1284.8,1661.0 1273.3,1661.8 1279.5,1655.2 1283.4,1638.5 1286.4,1629.0 1289.4,1619.6 1292.9,1609.0 1298.1,1598.4Z" fill="#9381d3" stroke="#9381d3" stroke-width="0.5"/>
<path d="M1273.3,1661.8 1284.8,1661.0 1296.4,1660.3 1307.9,1659.5 1319.5,1658.6 1331.0,1657.8 1342.6,1656.8 1346.2,1660.6 1346.0,1676.1 1345.7,1691.6 1345.4,1707.1 1345.1,1722.5 1344.8,1738.0 1344.5,1753.4 1344.1,1768.9 1343.7,1784.3 1346.0,1799.3 1348.3,1814.3 1350.5,1829.3 1352.8,1844.2 1344.2,1845.4 1335.6,1846.5 1327.6,1847.7 1319.5,1848.8 1312.7,1854.5 1308.1,1848.8 1301.2,1835.0 1303.5,1824.0 1290.2,1824.7 1276.9,1825.4 1263.6,1826.0 1250.3,1826.5 1237.0,1827.0 1238.1,1818.4 1239.3,1809.8 1245.0,1798.3 1250.2,1789.2 1255.3,1780.0 1259.4,1773.5 1251.9,1761.6 1248.7,1745.3 1246.9,1729.0 1249.6,1716.5 1253.8,1699.9 1264.8,1686.9 1265.7,1674.5 1273.3,1661.8Z" fill="#4bd395" stroke="#4bd395" stroke-width="0.5"/>
<path d="M1342.6,1656.8 1354.8,1655.8 1367.1,1654.7 1379.3,1653.6 1391.5,1652.4 1403.8,1651.2 1416.0,1649.9 1428.2,1648.6 1432.1,1662.8 1436.0,1677.1 1440.0,1691.3 1444.0,1705.5 1448.0,1719.7 1452.0,1733.9 1455.2,1749.3 1458.5,1764.6 1461.7,1780.0 1464.0,1786.9 1465.2,1798.1 1466.3,1809.4 1453.7,1810.9 1441.1,1812.4 1428.5,1813.8 1415.9,1815.2 1403.3,1816.5 1390.7,1817.8 1378.0,1819.0 1376.9,1822.4 1386.1,1832.8 1386.1,1846.1 1383.8,1846.5 1374.6,1847.7 1372.3,1841.9 1366.6,1832.8 1363.1,1835.0 1358.5,1845.4 1352.8,1844.2 1350.5,1829.3 1348.3,1814.3 1346.0,1799.3 1343.7,1784.3 1344.1,1768.9 1344.5,1753.4 1344.8,1738.0 1345.1,1722.5 1345.4,1707.1 1345.7,1691.6 1346.0,1676.1 1346.2,1660.6 1342.6,1656.8Z" fill="#61b7a8" stroke="#61b7a8" stroke-width="0.5"/>
<path d="M1428.2,1648.6 1438.7,1647.4 1449.3,1646.2 1459.8,1645.0 1470.3,1643.7 1480.2,1642.4 1490.1,1641.2 1500.1,1639.9 1510.0,1638.5 1503.8,1651.8 1512.3,1652.7 1521.6,1659.7 1527.0,1668.3 1532.5,1676.9 1545.3,1683.3 1557.4,1696.0 1566.2,1704.0 1575.2,1712.0 1580.4,1723.6 1585.9,1731.1 1591.4,1738.5 1603.3,1747.8 1595.6,1754.4 1594.8,1771.1 1594.2,1780.0 1590.1,1791.0 1592.8,1804.8 1584.6,1803.4 1576.3,1802.0 1572.2,1803.4 1571.5,1809.6 1575.0,1814.4 1574.3,1819.9 1570.8,1822.0 1568.1,1819.9 1566.7,1814.4 1564.6,1813.7 1551.7,1814.9 1538.8,1816.0 1526.0,1817.1 1513.1,1818.1 1500.2,1819.0 1487.3,1820.0 1474.4,1820.8 1466.3,1809.4 1465.2,1798.1 1464.0,1786.9 1461.7,1780.0 1458.5,1764.6 1455.2,1749.3 1452.0,1733.9 1448.0,1719.7 1444.0,1705.5 1440.0,1691.3 1436.0,1677.1 1432.1,1662.8 1428.2,1648.6Z" fill="#ab66e8" stroke="#ab66e8" stroke-width="0.5"/>
<path d="M1386.1,1846.1 1386.1,1832.8 1376.9,1822.4 1378.0,1819.0 1390.7,1817.8 1403.3,1816.5 1415.9,1815.2 1428.5,1813.8 1441.1,1812.4 1453.7,1810.9 1466.3,1809.4 1474.4,1820.8 1487.3,1820.0 1500.2,1819.0 1513.1,1818.1 1526.0,1817.1 1538.8,1816.0 1551.7,1814.9 1564.6,1813.7 1566.7,1814.4 1568.1,1819.9 1570.8,1822.0 1574.3,1819.9 1575.0,1814.4 1571.5,1809.6 1572.2,1803.4 1576.3,1802.0 1584.6,1803.4 1592.8,1804.8 1595.6,1814.4 1599.7,1825.4 1603.8,1835.1 1608.0,1844.7 1612.8,1852.3 1617.6,1859.8 1628.6,1873.6 1638.3,1886.0 1637.6,1895.6 1642.4,1906.6 1647.9,1916.2 1653.4,1925.9 1658.9,1935.5 1664.4,1945.1 1667.8,1953.4 1668.5,1963.0 1669.2,1972.7 1669.9,1982.3 1670.6,1991.9 1667.2,2000.2 1665.8,2011.2 1663.0,2016.7 1653.4,2020.8 1643.8,2024.3 1638.3,2022.2 1637.6,2018.1 1631.4,2008.4 1625.9,2001.6 1620.4,1997.4 1614.2,1998.8 1610.7,1993.3 1606.6,1983.7 1601.1,1976.8 1595.6,1974.0 1592.8,1969.9 1594.9,1964.4 1592.8,1958.9 1590.1,1964.4 1584.6,1958.9 1576.3,1947.9 1569.4,1940.3 1573.6,1932.8 1577.7,1924.5 1573.6,1920.4 1568.1,1919.7 1563.9,1920.4 1567.4,1927.9 1561.9,1924.5 1562.6,1916.2 1561.2,1912.1 1563.9,1901.1 1563.6,1892.8 1563.3,1884.6 1558.4,1879.1 1552.9,1873.6 1546.1,1870.8 1540.6,1863.9 1532.3,1859.8 1528.2,1852.9 1520.0,1845.4 1509.9,1840.8 1498.4,1841.9 1491.6,1848.8 1484.7,1853.4 1477.8,1858.0 1464.0,1861.4 1452.6,1851.1 1441.1,1844.2 1433.1,1841.7 1425.0,1839.2 1415.9,1840.0 1406.7,1840.8 1396.4,1843.4 1386.1,1846.1ZM1617.6,2047.7 1625.9,2043.9 1633.4,2043.1 1626.1,2045.6Z" fill="#ab66e8" stroke="#ab66e8" stroke-width="0.5"/>
<path d="M1510.0,1638.5 1521.0,1632.9 1532.1,1627.1 1543.3,1626.0 1554.4,1624.9 1565.6,1623.7 1576.8,1622.4 1582.5,1635.3 1592.8,1633.8 1603.2,1632.3 1613.5,1630.8 1623.9,1629.2 1638.3,1639.6 1652.8,1649.9 1667.4,1660.2 1657.5,1671.2 1651.7,1686.8 1648.1,1695.8 1639.5,1705.6 1630.9,1715.4 1623.0,1725.1 1615.1,1734.7 1603.3,1747.8 1591.4,1738.5 1585.9,1731.1 1580.4,1723.6 1575.2,1712.0 1566.2,1704.0 1557.4,1696.0 1545.3,1683.3 1532.5,1676.9 1527.0,1668.3 1521.6,1659.7 1512.3,1652.7 1503.8,1651.8 1510.0,1638.5Z" fill="#7b9bc0" stroke="#7b9bc0" stroke-width="0.5"/>
<path d="M1547.0,1567.2 1547.8,1577.0 1538.1,1588.9 1529.5,1592.2 1520.9,1595.5 1511.6,1599.7 1501.5,1610.6 1494.1,1617.0 1487.8,1619.3 1481.5,1621.6 1477.6,1630.4 1470.3,1643.7 1480.2,1642.4 1490.1,1641.2 1500.1,1639.9 1510.0,1638.5 1521.0,1632.9 1532.1,1627.1 1543.3,1626.0 1554.4,1624.9 1565.6,1623.7 1576.8,1622.4 1582.5,1635.3 1592.8,1633.8 1603.2,1632.3 1613.5,1630.8 1623.9,1629.2 1638.3,1639.6 1652.8,1649.9 1667.4,1660.2 1676.5,1658.5 1685.5,1656.8 1688.8,1647.1 1692.1,1637.5 1700.5,1628.5 1708.9,1619.5 1705.1,1624.3 1712.0,1620.0 1718.9,1615.7 1730.1,1612.2 1731.8,1603.6 1727.5,1600.2 1722.3,1588.1 1730.1,1583.9 1737.8,1579.5 1745.6,1569.2 1744.7,1564.9 1737.0,1562.8 1729.2,1560.6 1721.5,1561.9 1713.7,1563.2 1723.2,1559.3 1732.7,1555.5 1743.0,1552.0 1734.4,1543.4 1732.5,1534.8 1720.2,1537.4 1707.9,1539.8 1695.5,1542.2 1683.2,1544.6 1670.9,1546.9 1658.5,1549.1 1646.2,1551.3 1633.8,1553.5 1621.4,1555.6 1609.0,1557.6 1596.6,1559.7 1584.2,1561.6 1571.8,1563.5 1559.4,1565.4 1547.0,1567.2Z" fill="#9381d3" stroke="#9381d3" stroke-width="0.5"/>
<path d="M1482.9,1575.8 1495.8,1574.2 1508.6,1572.5 1521.4,1570.8 1534.2,1569.0 1547.0,1567.2 1559.4,1565.4 1571.8,1563.5 1584.2,1561.6 1596.6,1559.7 1609.0,1557.6 1621.4,1555.6 1633.8,1553.5 1646.2,1551.3 1658.5,1549.1 1670.9,1546.9 1683.2,1544.6 1695.5,1542.2 1707.9,1539.8 1720.2,1537.4 1732.5,1534.8 1728.4,1529.5 1726.9,1522.7 1719.2,1525.0 1722.3,1529.5 1713.1,1526.5 1708.6,1531.0 1710.1,1528.0 1708.6,1521.9 1703.2,1517.3 1694.9,1514.3 1703.2,1513.5 1715.4,1514.3 1712.4,1510.5 1698.7,1501.3 1708.6,1506.7 1714.7,1505.1 1708.6,1498.3 1702.5,1496.0 1694.1,1489.0 1685.7,1481.9 1699.4,1486.1 1704.8,1489.9 1710.1,1483.8 1704.8,1476.2 1699.4,1477.7 1693.3,1476.2 1685.7,1473.1 1681.1,1467.8 1677.3,1470.5 1673.9,1468.6 1675.8,1461.0 1673.5,1457.1 1677.3,1457.9 1679.6,1453.3 1683.4,1448.0 1676.6,1444.2 1673.5,1448.8 1669.0,1445.7 1662.1,1442.7 1659.0,1438.1 1653.1,1438.1 1651.4,1443.4 1638.9,1435.9 1633.8,1436.8 1631.2,1447.9 1626.0,1455.7 1622.6,1466.0 1615.7,1466.9 1612.2,1481.5 1601.9,1479.8 1596.8,1490.1 1591.6,1503.0 1586.4,1515.9 1582.1,1526.2 1575.7,1528.8 1569.2,1531.4 1568.4,1534.0 1558.9,1538.3 1552.9,1536.5 1546.9,1542.6 1539.4,1536.2 1532.0,1529.9 1522.9,1541.2 1517.2,1546.2 1511.4,1551.2 1500.0,1563.1 1491.5,1569.5 1482.9,1575.8ZM1722.7,1479.2 1729.0,1476.8 1735.2,1474.3 1732.6,1483.8 1732.2,1491.4 1728.4,1499.0 1726.9,1506.7 1725.7,1509.7 1725.3,1501.3 1723.8,1495.2 1725.3,1487.6 1727.6,1480.0 1722.7,1479.2Z" fill="#9381d3" stroke="#9381d3" stroke-width="0.5"/>
<path d="M1506.9,1497.0 1518.4,1487.8 1517.2,1479.7 1525.9,1474.2 1529.6,1467.4 1534.3,1456.3 1544.4,1450.6 1553.3,1436.7 1555.2,1419.7 1554.8,1407.3 1557.1,1396.9 1559.2,1409.4 1561.2,1421.8 1563.2,1434.3 1573.9,1432.5 1584.5,1430.7 1595.1,1428.8 1597.2,1440.1 1599.3,1451.4 1607.1,1440.2 1612.2,1438.5 1616.5,1431.6 1620.8,1433.3 1629.5,1428.7 1633.8,1425.1 1640.0,1422.9 1648.8,1425.5 1652.6,1432.0 1653.1,1438.1 1651.4,1443.4 1638.9,1435.9 1633.8,1436.8 1631.2,1447.9 1626.0,1455.7 1622.6,1466.0 1615.7,1466.9 1612.2,1481.5 1601.9,1479.8 1596.8,1490.1 1591.6,1503.0 1586.4,1515.9 1582.1,1526.2 1575.7,1528.8 1569.2,1531.4 1568.4,1534.0 1558.9,1538.3 1552.9,1536.5 1546.9,1542.6 1539.4,1536.2 1532.0,1529.9 1520.6,1524.9 1514.5,1516.4 1508.5,1508.0 1506.9,1497.0Z" fill="#4bd395" stroke="#4bd395" stroke-width="0.5"/>
<path d="M1707.5,1406.8 1696.3,1409.2 1685.1,1411.6 1673.9,1413.9 1662.6,1416.2 1651.4,1418.4 1640.1,1420.6 1628.9,1422.7 1617.6,1424.8 1606.4,1426.8 1595.1,1428.8 1597.2,1440.1 1599.3,1451.4 1607.1,1440.2 1612.2,1438.5 1616.5,1431.6 1620.8,1433.3 1629.5,1428.7 1633.8,1425.1 1640.0,1422.9 1648.8,1425.5 1652.6,1432.0 1653.1,1438.1 1659.0,1438.1 1662.1,1442.7 1669.0,1445.7 1673.5,1448.8 1676.6,1444.2 1683.4,1448.0 1679.6,1453.3 1677.3,1457.9 1673.5,1457.1 1675.8,1461.0 1673.9,1468.6 1677.3,1470.5 1681.1,1467.8 1685.7,1473.1 1693.3,1476.2 1699.4,1477.7 1704.8,1476.2 1704.8,1473.1 1700.2,1466.3 1696.4,1459.4 1693.3,1451.8 1694.9,1445.7 1693.3,1442.7 1694.9,1435.8 1688.8,1432.8 1694.9,1430.5 1697.9,1425.1 1701.7,1420.6 1701.0,1417.5 1706.3,1414.5 1707.0,1415.2 1706.3,1422.1 1701.7,1428.2 1701.0,1432.0 1703.2,1435.8 1702.5,1441.1 1705.5,1444.2 1703.2,1448.8 1708.6,1453.3 1704.8,1457.1 1706.3,1460.2 1713.1,1467.0 1715.4,1463.2 1717.0,1467.0 1721.5,1468.6 1723.0,1472.4 1722.7,1479.2 1729.0,1476.8 1735.2,1474.3 1740.6,1467.0 1742.5,1459.4 1741.4,1452.9 1731.3,1454.9 1721.2,1456.9 1717.8,1444.4 1714.3,1431.9 1710.9,1419.4 1707.5,1406.8Z" fill="#7b9bc0" stroke="#7b9bc0" stroke-width="0.5"/>
<path d="M1707.5,1406.8 1712.2,1400.8 1718.0,1401.2 1716.2,1409.1 1720.0,1419.0 1724.6,1425.1 1729.9,1435.8 1739.0,1442.7 1741.4,1452.9 1731.3,1454.9 1721.2,1456.9 1717.8,1444.4 1714.3,1431.9 1710.9,1419.4 1707.5,1406.8Z" fill="#61b7a8" stroke="#61b7a8" stroke-width="0.5"/>
<path d="M1550.5,1345.0 1556.0,1340.6 1561.5,1336.1 1570.6,1328.8 1571.6,1338.9 1583.4,1336.8 1595.2,1334.6 1607.0,1332.4 1618.8,1330.1 1630.5,1327.8 1642.3,1325.4 1654.0,1323.0 1665.8,1320.5 1677.5,1318.0 1689.2,1315.4 1701.0,1312.8 1704.8,1316.2 1710.5,1323.8 1716.2,1331.4 1726.7,1336.2 1719.0,1352.4 1721.9,1356.2 1719.0,1363.8 1723.8,1371.4 1738.1,1382.9 1729.5,1392.4 1721.9,1403.8 1718.0,1401.2 1712.2,1400.8 1707.5,1406.8 1696.3,1409.2 1685.1,1411.6 1673.9,1413.9 1662.6,1416.2 1651.4,1418.4 1640.1,1420.6 1628.9,1422.7 1617.6,1424.8 1606.4,1426.8 1595.1,1428.8 1584.5,1430.7 1573.9,1432.5 1563.2,1434.3 1561.2,1421.8 1559.2,1409.4 1557.1,1396.9 1555.5,1383.9 1553.8,1370.9 1552.1,1357.9 1550.5,1345.0Z" fill="#ab66e8" stroke="#ab66e8" stroke-width="0.5"/>
<path d="M1726.7,1336.2 1735.9,1338.4 1745.1,1340.7 1754.3,1342.9 1753.3,1352.4 1749.0,1362.9 1757.1,1367.6 1758.1,1382.9 1756.7,1392.4 1755.2,1401.9 1750.5,1415.2 1743.8,1428.6 1743.6,1429.7 1742.9,1422.9 1739.0,1421.7 1731.4,1421.3 1723.8,1417.5 1719.2,1411.4 1718.5,1404.6 1718.0,1401.2 1721.9,1403.8 1729.5,1392.4 1738.1,1382.9 1723.8,1371.4 1719.0,1363.8 1721.9,1356.2 1719.0,1352.4 1726.7,1336.2Z" fill="#ab66e8" stroke="#ab66e8" stroke-width="0.5"/>
<path d="M1570.6,1328.8 1576.2,1323.3 1581.7,1317.8 1589.0,1306.8 1594.5,1299.4 1590.8,1293.9 1585.3,1288.4 1585.3,1284.8 1594.5,1279.3 1601.8,1277.9 1609.2,1276.5 1620.2,1275.6 1627.5,1277.4 1634.9,1274.7 1640.0,1273.3 1649.5,1270.5 1658.1,1261.9 1664.8,1255.2 1661.9,1249.5 1664.8,1241.9 1657.1,1238.1 1656.2,1232.4 1662.9,1224.8 1668.6,1219.0 1673.4,1210.5 1678.1,1201.9 1684.3,1196.2 1690.5,1190.5 1701.2,1188.2 1711.9,1185.8 1722.6,1183.4 1733.3,1181.0 1735.2,1190.5 1737.1,1200.0 1741.0,1211.4 1740.0,1222.9 1743.8,1236.2 1746.7,1238.1 1750.5,1252.9 1754.3,1267.6 1755.7,1282.9 1757.1,1298.1 1760.0,1313.8 1762.9,1329.5 1759.6,1334.9 1761.9,1338.1 1758.1,1342.9 1761.9,1349.5 1767.6,1346.9 1773.3,1344.2 1779.1,1341.6 1784.8,1339.0 1794.3,1334.3 1803.8,1329.5 1806.7,1330.5 1800.0,1334.9 1805.7,1333.3 1798.1,1341.0 1791.4,1344.8 1784.8,1348.6 1777.2,1353.3 1769.5,1358.1 1763.8,1361.0 1758.1,1363.8 1752.4,1363.8 1751.4,1358.1 1754.3,1352.4 1754.3,1342.9 1745.1,1340.7 1735.9,1338.4 1726.7,1336.2 1716.2,1331.4 1710.5,1323.8 1704.8,1316.2 1701.0,1312.8 1689.2,1315.4 1677.5,1318.0 1665.8,1320.5 1654.0,1323.0 1642.3,1325.4 1630.5,1327.8 1618.8,1330.1 1607.0,1332.4 1595.2,1334.6 1583.4,1336.8 1571.6,1338.9 1570.6,1328.8Z" fill="#ab66e8" stroke="#ab66e8" stroke-width="0.5"/>
<path d="M1757.1,1298.1 1767.2,1296.1 1777.2,1294.0 1787.2,1291.9 1797.2,1289.8 1807.2,1287.6 1809.8,1300.7 1812.4,1313.7 1801.9,1319.0 1795.2,1321.4 1788.6,1323.8 1781.0,1326.7 1773.3,1329.5 1765.7,1334.9 1761.9,1338.1 1759.6,1334.9 1762.9,1329.5 1760.0,1313.8 1757.1,1298.1Z" fill="#9381d3" stroke="#9381d3" stroke-width="0.5"/>
<path d="M1807.2,1287.6 1818.1,1285.1 1820.6,1293.7 1827.6,1297.5 1828.6,1303.8 1822.9,1305.7 1821.0,1301.0 1818.1,1306.7 1817.1,1311.4 1812.4,1313.7 1809.8,1300.7 1807.2,1287.6Z" fill="#61b7a8" stroke="#61b7a8" stroke-width="0.5"/>
<path d="M1754.3,1267.6 1765.2,1264.8 1776.2,1261.9 1786.2,1259.6 1796.2,1257.2 1806.2,1254.8 1816.2,1252.4 1821.0,1247.6 1825.7,1241.9 1823.8,1247.6 1833.3,1253.3 1827.6,1259.0 1825.7,1266.7 1830.5,1270.5 1838.1,1276.2 1840.0,1283.8 1842.3,1288.6 1849.5,1289.9 1859.0,1285.7 1862.5,1280.4 1859.0,1275.2 1857.1,1276.2 1860.0,1281.0 1857.1,1285.7 1849.5,1292.4 1844.8,1294.3 1839.0,1295.2 1834.3,1300.0 1828.6,1303.8 1827.6,1297.5 1820.6,1293.7 1818.1,1285.1 1807.2,1287.6 1797.2,1289.8 1787.2,1291.9 1777.2,1294.0 1767.2,1296.1 1757.1,1298.1 1755.7,1282.9 1754.3,1267.6ZM1844.8,1304.4 1849.5,1301.9 1853.7,1302.5 1849.5,1305.1ZM1859.0,1302.5 1863.8,1300.6 1867.0,1301.3 1862.9,1303.6Z" fill="#ab66e8" stroke="#ab66e8" stroke-width="0.5"/>
<path d="M1733.3,1181.0 1743.4,1178.4 1753.6,1175.9 1763.6,1173.3 1773.7,1170.7 1783.8,1168.0 1785.7,1177.1 1784.8,1190.5 1776.2,1198.1 1777.1,1211.4 1774.3,1228.6 1774.8,1237.1 1775.2,1245.7 1776.2,1261.9 1765.2,1264.8 1754.3,1267.6 1750.5,1252.9 1746.7,1238.1 1743.8,1236.2 1740.0,1222.9 1741.0,1211.4 1737.1,1200.0 1735.2,1190.5 1733.3,1181.0Z" fill="#4bd395" stroke="#4bd395" stroke-width="0.5"/>
<path d="M1783.8,1168.0 1784.8,1156.2 1794.3,1152.4 1797.9,1164.9 1801.5,1177.5 1805.1,1190.1 1808.8,1202.6 1812.4,1215.2 1817.1,1225.7 1828.6,1237.1 1825.7,1241.9 1821.0,1247.6 1816.2,1252.4 1806.2,1254.8 1796.2,1257.2 1786.2,1259.6 1776.2,1261.9 1775.2,1245.7 1774.8,1237.1 1774.3,1228.6 1777.1,1211.4 1776.2,1198.1 1784.8,1190.5 1785.7,1177.1 1783.8,1168.0Z" fill="#4bd395" stroke="#4bd395" stroke-width="0.5"/>
<path d="M1794.3,1152.4 1801.0,1139.0 1801.9,1133.3 1807.6,1123.8 1805.7,1112.4 1807.6,1102.9 1809.5,1085.7 1813.4,1074.3 1817.1,1062.9 1820.0,1054.9 1823.8,1054.3 1825.7,1061.9 1832.4,1062.9 1839.1,1057.2 1845.7,1051.4 1849.5,1051.8 1861.9,1059.0 1866.7,1074.3 1871.9,1089.5 1877.1,1104.8 1878.1,1110.5 1889.5,1112.4 1891.4,1120.0 1895.2,1124.8 1901.9,1127.6 1905.7,1135.2 1907.6,1141.0 1902.9,1145.7 1901.0,1149.5 1893.3,1154.3 1885.7,1158.1 1880.0,1163.8 1874.3,1171.4 1868.6,1171.4 1862.9,1177.1 1863.8,1184.8 1859.0,1188.6 1853.3,1198.1 1845.7,1203.8 1838.1,1207.6 1836.2,1215.2 1832.4,1221.0 1830.5,1228.6 1828.6,1237.1 1817.1,1225.7 1812.4,1215.2 1808.8,1202.6 1805.1,1190.1 1801.5,1177.5 1797.9,1164.9 1794.3,1152.4Z" fill="#4bd395" stroke="#4bd395" stroke-width="0.5"/>
</g>
<path d="M1276.0,1855.7 1279.4,1852.2 1285.1,1854.5 1290.9,1851.1 1301.2,1853.4 1304.6,1858.0 1302.3,1862.6 1294.3,1864.9 1285.1,1863.7 1280.6,1860.3 1277.1,1860.3Z" fill="#f1f3f2"/>
<path d="M255.9,1421.6 261.3,1428.2 257.4,1433.0 259.1,1441.8 260.2,1452.7 252.6,1446.2 250.4,1438.5 248.6,1435.2 252.6,1430.8Z" fill="#f1f3f2"/>
<path d="M520.3,1032.0 517.0,1046.5 513.7,1061.0 510.4,1075.5 507.1,1090.0 503.8,1104.6 500.5,1119.2 497.2,1133.8 498.2,1144.4 496.7,1151.2M371.0,1289.0 381.8,1291.8 392.6,1294.5 403.5,1297.2 414.3,1299.9 425.2,1302.5 436.0,1305.0 446.9,1307.5 457.8,1310.0M249.2,1254.7 260.2,1258.1 271.3,1261.4 282.3,1264.6 293.3,1267.8 304.4,1271.0 315.5,1274.1 326.6,1277.2 337.7,1280.2 348.8,1283.2 359.9,1286.1 371.0,1289.0M472.3,1607.2 462.2,1593.2 452.2,1579.2 442.3,1565.1 432.5,1551.0 422.8,1536.8 413.2,1522.7 403.7,1508.5 394.3,1494.3 385.1,1480.0 375.9,1465.8 366.8,1451.4 357.8,1437.1 349.0,1422.8 340.2,1408.4 344.1,1393.5 347.9,1378.5 351.8,1363.6 355.6,1348.7 359.5,1333.8 363.3,1318.9 367.2,1303.9 371.0,1289.0M457.8,1310.0 468.8,1312.4 479.7,1314.8 490.7,1317.2 501.7,1319.5 512.7,1321.8 523.7,1324.0 534.7,1326.2 545.8,1328.3M545.8,1328.3 542.8,1343.8 539.8,1359.3 536.8,1374.8 533.8,1390.4 530.8,1405.9 527.8,1421.4 524.7,1436.9 521.7,1452.5 518.7,1468.0 515.7,1483.5 512.7,1499.1 509.7,1514.6 506.7,1530.1M650.2,1244.0 648.0,1258.3 645.7,1272.5 643.4,1286.8 641.1,1301.0 638.9,1315.3 636.6,1329.6 634.3,1343.9M545.8,1328.3 556.8,1330.4 567.9,1332.5 578.9,1334.5 590.0,1336.5 601.0,1338.4 612.1,1340.3 623.2,1342.1 634.3,1343.9M867.2,1085.5 865.9,1100.9 864.6,1116.2 863.3,1131.6 862.0,1147.0 860.7,1162.5 859.4,1177.9 858.1,1193.4 856.7,1208.9M856.7,1208.9 855.7,1221.6 854.6,1234.3 853.5,1247.1M650.2,1244.0 651.9,1233.4 653.7,1222.7 664.7,1224.4 675.8,1226.1 686.8,1227.8 697.9,1229.4 709.0,1230.9 720.1,1232.4 731.2,1233.9 742.2,1235.3 753.3,1236.7 764.5,1238.0 775.6,1239.3 786.7,1240.6 797.8,1241.8 808.9,1242.9 820.1,1244.0 831.2,1245.1 842.3,1246.1 853.5,1247.1M853.5,1247.1 852.1,1263.3 850.7,1279.6 849.3,1295.9 848.0,1312.2 846.6,1328.6M846.6,1328.6 845.2,1344.9 843.8,1361.2 842.4,1377.6 841.0,1393.9 839.6,1410.3M688.1,1393.4 699.8,1395.0 711.4,1396.5 723.0,1398.0 734.7,1399.5 746.3,1400.9 757.9,1402.2 769.6,1403.5 781.3,1404.8 792.9,1406.0 804.6,1407.1 816.3,1408.2 828.0,1409.3 839.6,1410.3M634.3,1343.9 632.1,1357.4 630.0,1370.9 627.8,1384.4 639.9,1386.3 651.9,1388.2 664.0,1390.0 676.1,1391.7 688.1,1393.4M688.1,1393.4 685.9,1409.7 683.6,1426.0 681.4,1442.3 679.1,1458.6 676.9,1474.9 674.6,1491.2 672.4,1507.5 670.1,1523.8 667.9,1540.1 665.6,1556.4M506.7,1530.1 518.9,1532.4 531.0,1534.7 543.2,1536.9 555.4,1539.1 567.6,1541.2 579.9,1543.3 592.1,1545.3 604.3,1547.3 616.6,1549.2 628.8,1551.0 641.1,1552.9 653.4,1554.6 665.6,1556.4M839.6,1410.3 851.8,1411.3 864.0,1412.3 876.1,1413.2 888.3,1414.0 900.5,1414.8 899.6,1428.5 898.7,1442.2 897.8,1455.8M897.8,1455.8 896.9,1471.2 896.0,1486.6 895.0,1502.0 894.1,1517.4 893.1,1532.8 892.2,1548.2 891.2,1563.6 890.3,1579.0M859.4,1576.9 869.7,1577.6 880.0,1578.3 890.3,1579.0M665.6,1556.4 677.7,1558.0 689.8,1559.6 701.9,1561.1 714.0,1562.6 726.0,1564.1 738.2,1565.5 750.3,1566.9 762.4,1568.2 774.5,1569.4 786.6,1570.6 798.7,1571.8 810.9,1572.9 823.0,1574.0 835.2,1575.0 847.3,1576.0 859.4,1576.9M665.6,1556.4 663.5,1571.8 661.4,1587.2 659.2,1602.6 657.1,1617.9 655.0,1633.3 652.9,1648.7 650.7,1664.1 648.6,1679.5 646.5,1694.8 644.4,1710.2 642.2,1725.5 640.1,1740.9 638.0,1756.2 635.9,1771.5 633.8,1786.9M856.6,1597.3 858.0,1587.1 859.4,1576.9M722.5,1779.4 720.4,1770.1 733.9,1771.6 747.5,1773.0 761.0,1774.4 774.5,1775.7 788.1,1777.0 801.6,1778.2 815.2,1779.3 828.7,1780.4 842.3,1781.5 843.5,1766.1 844.7,1750.8 845.9,1735.5 847.1,1720.2 848.3,1704.8 849.5,1689.5 850.7,1674.1 851.9,1658.8 853.1,1643.4 854.3,1628.0 855.4,1612.7 856.6,1597.3M1136.0,1722.8 1143.4,1724.6 1150.9,1726.3 1151.1,1737.1 1151.3,1748.0M890.3,1579.0 902.9,1579.8 915.4,1580.5 928.0,1581.2 940.6,1581.8 953.1,1582.4 965.7,1582.9 978.3,1583.3 990.9,1583.7 1003.4,1584.1 1016.0,1584.4 1028.6,1584.7 1041.2,1584.9 1053.8,1585.0 1066.3,1585.1 1078.9,1585.2 1091.5,1585.2 1104.1,1585.1 1116.7,1585.0 1129.3,1584.9M1129.3,1584.9 1129.4,1595.1 1129.6,1605.4M1129.6,1605.4 1131.8,1620.5 1134.1,1635.5 1136.5,1650.5 1136.4,1665.0 1136.3,1679.5 1136.2,1693.9 1136.1,1708.4 1136.0,1722.8M897.8,1455.8 910.1,1456.6 922.3,1457.3 934.6,1457.9 946.8,1458.5 959.1,1459.1 971.3,1459.6 983.6,1460.0 995.8,1460.4 1008.1,1460.8 1020.3,1461.1 1032.6,1461.3 1044.8,1461.5 1057.1,1461.7 1069.4,1461.7 1081.6,1461.8 1093.9,1461.8 1106.1,1461.7M1091.9,1437.9 1098.7,1451.5 1106.1,1461.7M856.7,1208.9 867.9,1209.8 879.0,1210.7 890.2,1211.5 901.3,1212.3 912.5,1213.1 923.6,1213.8 934.8,1214.4 946.0,1215.0 957.1,1215.6 968.3,1216.1 979.5,1216.5 990.7,1216.9 1001.8,1217.3 1013.0,1217.6 1024.2,1217.9 1035.4,1218.1 1046.6,1218.3 1057.7,1218.4 1068.9,1218.5M1071.6,1318.1 1067.1,1326.3 1068.5,1338.6 1069.9,1349.1 1071.4,1359.5M1071.6,1318.1 1082.5,1318.2 1093.5,1318.2 1104.5,1318.1 1115.5,1318.0 1126.5,1317.9 1137.5,1317.7 1148.5,1317.4 1159.5,1317.2 1170.4,1316.9 1181.4,1316.5 1192.4,1316.1 1203.4,1315.7 1214.4,1315.2 1225.3,1314.6M1225.3,1314.6 1226.9,1324.8 1228.4,1335.0 1231.9,1345.1 1238.3,1349.6 1244.7,1354.2M1091.9,1437.9 1103.1,1437.8 1114.4,1437.6 1125.6,1437.3 1136.9,1437.0 1148.2,1436.7 1159.4,1436.3 1170.7,1435.9 1181.9,1435.4 1193.2,1434.9 1204.4,1434.4 1215.7,1433.8 1225.6,1442.8M1305.4,1578.1 1301.7,1594.0 1298.1,1598.4M1298.1,1598.4 1292.9,1609.0 1289.4,1619.6M1129.6,1605.4 1141.6,1605.2 1153.7,1605.0 1165.8,1604.7 1177.9,1604.3 1190.0,1604.0 1202.0,1603.5 1214.1,1603.0 1226.2,1602.5 1238.2,1601.9 1250.3,1601.3 1262.4,1600.6 1274.4,1599.9 1271.5,1610.4 1268.5,1620.9 1279.0,1620.2 1289.4,1619.6M1289.4,1619.6 1286.4,1629.0 1283.4,1638.5 1279.5,1655.2 1273.3,1661.8M1151.3,1748.0 1163.5,1747.8 1175.7,1747.6 1187.8,1747.3 1200.0,1747.0 1212.2,1746.7 1224.4,1746.3 1236.5,1745.8 1248.7,1745.3M1244.7,1354.2 1255.2,1353.7 1265.8,1353.0 1276.4,1352.4 1287.0,1351.7 1297.5,1351.0 1308.1,1350.2 1318.7,1349.4 1329.2,1348.6M1361.3,1376.1 1371.4,1375.5 1381.6,1374.9 1391.7,1374.3 1401.8,1373.6 1412.0,1372.8 1422.1,1372.1M1422.1,1372.1 1423.8,1387.2 1425.5,1402.4 1427.3,1417.5 1429.0,1432.7 1430.7,1447.9 1432.4,1463.1 1434.1,1478.2M1422.1,1372.1 1432.2,1370.7 1442.3,1369.3 1452.3,1367.9 1462.4,1366.4M1550.5,1345.0 1552.1,1357.9 1553.8,1370.9 1555.5,1383.9 1557.1,1396.9M1532.0,1529.9 1520.6,1524.9 1514.5,1516.4 1508.5,1508.0 1506.9,1497.0M1482.9,1575.8 1491.5,1569.5 1500.0,1563.1 1511.4,1551.2 1517.2,1546.2 1522.9,1541.2 1532.0,1529.9M1482.9,1575.8 1471.6,1577.0 1460.2,1578.1 1448.8,1579.3 1437.4,1580.3 1426.0,1581.4 1414.6,1582.4 1403.2,1583.3 1391.8,1584.2 1379.2,1585.2 1366.5,1586.0 1353.8,1586.9 1341.1,1587.6 1342.4,1595.0 1331.3,1595.9 1320.2,1596.7 1309.2,1597.6 1298.1,1598.4M1547.0,1567.2 1534.2,1569.0 1521.4,1570.8 1508.6,1572.5 1495.8,1574.2 1482.9,1575.8M1428.2,1648.6 1438.7,1647.4 1449.3,1646.2 1459.8,1645.0 1470.3,1643.7M1342.6,1656.8 1354.8,1655.8 1367.1,1654.7 1379.3,1653.6 1391.5,1652.4 1403.8,1651.2 1416.0,1649.9 1428.2,1648.6M1273.3,1661.8 1284.8,1661.0 1296.4,1660.3 1307.9,1659.5 1319.5,1658.6 1331.0,1657.8 1342.6,1656.8M1352.8,1844.2 1350.5,1829.3 1348.3,1814.3 1346.0,1799.3 1343.7,1784.3 1344.1,1768.9 1344.5,1753.4 1344.8,1738.0 1345.1,1722.5 1345.4,1707.1 1345.7,1691.6 1346.0,1676.1 1346.2,1660.6 1342.6,1656.8M1428.2,1648.6 1432.1,1662.8 1436.0,1677.1 1440.0,1691.3 1444.0,1705.5 1448.0,1719.7 1452.0,1733.9 1455.2,1749.3 1458.5,1764.6 1461.7,1780.0 1464.0,1786.9 1465.2,1798.1 1466.3,1809.4M1386.1,1846.1 1386.1,1832.8 1376.9,1822.4 1378.0,1819.0 1390.7,1817.8 1403.3,1816.5 1415.9,1815.2 1428.5,1813.8 1441.1,1812.4 1453.7,1810.9 1466.3,1809.4M1470.3,1643.7 1480.2,1642.4 1490.1,1641.2 1500.1,1639.9 1510.0,1638.5M1732.5,1534.8 1720.2,1537.4 1707.9,1539.8 1695.5,1542.2 1683.2,1544.6 1670.9,1546.9 1658.5,1549.1 1646.2,1551.3 1633.8,1553.5 1621.4,1555.6 1609.0,1557.6 1596.6,1559.7 1584.2,1561.6 1571.8,1563.5 1559.4,1565.4 1547.0,1567.2M1557.1,1396.9 1559.2,1409.4 1561.2,1421.8 1563.2,1434.3 1573.9,1432.5 1584.5,1430.7 1595.1,1428.8M1595.1,1428.8 1606.4,1426.8 1617.6,1424.8 1628.9,1422.7 1640.1,1420.6 1651.4,1418.4 1662.6,1416.2 1673.9,1413.9 1685.1,1411.6 1696.3,1409.2 1707.5,1406.8M1741.4,1452.9 1731.3,1454.9 1721.2,1456.9 1717.8,1444.4 1714.3,1431.9 1710.9,1419.4 1707.5,1406.8M1707.5,1406.8 1712.2,1400.8 1718.0,1401.2M1726.7,1336.2 1735.9,1338.4 1745.1,1340.7 1754.3,1342.9M1754.3,1267.6 1755.7,1282.9 1757.1,1298.1M1757.1,1298.1 1760.0,1313.8 1762.9,1329.5 1759.6,1334.9 1761.9,1338.1M1807.2,1287.6 1797.2,1289.8 1787.2,1291.9 1777.2,1294.0 1767.2,1296.1 1757.1,1298.1M1807.2,1287.6 1809.8,1300.7 1812.4,1313.7M1828.6,1303.8 1827.6,1297.5 1820.6,1293.7 1818.1,1285.1 1807.2,1287.6M1754.3,1267.6 1765.2,1264.8 1776.2,1261.9M1776.2,1261.9 1786.2,1259.6 1796.2,1257.2 1806.2,1254.8 1816.2,1252.4 1821.0,1247.6 1825.7,1241.9M1828.6,1237.1 1817.1,1225.7 1812.4,1215.2 1808.8,1202.6 1805.1,1190.1 1801.5,1177.5 1797.9,1164.9 1794.3,1152.4" fill="none" stroke="#ffffff" stroke-opacity="0.88" stroke-width="1.8" stroke-linejoin="round" stroke-linecap="round"/>
<path d="M305.8,1096.4 312.5,1095.4 319.2,1094.4 326.2,1100.7 332.4,1104.7 332.6,1114.3 332.7,1123.9 338.3,1127.6 344.0,1131.3 356.4,1129.3 362.1,1130.0 367.8,1130.8 374.7,1137.7 383.0,1137.2 391.2,1136.7 397.4,1138.3 403.6,1139.9 412.8,1138.3 422.0,1136.7 433.2,1139.1 439.9,1137.8 449.3,1140.1 458.8,1142.4 468.3,1144.6 477.7,1146.8 487.2,1149.0 496.7,1151.2M496.7,1151.2 499.7,1160.2 502.6,1173.3 503.1,1181.8 494.0,1192.3 488.0,1199.3 481.9,1200.0 475.0,1211.0 477.5,1220.0 480.8,1224.9 474.3,1236.8 471.0,1251.5 467.7,1266.1 464.4,1280.7 461.1,1295.3 457.8,1310.0M451.1,1698.4 460.7,1688.6 457.2,1671.2 465.6,1660.3 470.2,1648.6 483.1,1638.6 475.8,1628.8 473.1,1613.6 472.3,1607.2M472.3,1607.2 473.1,1595.7 473.8,1584.2 475.4,1573.8 477.1,1563.4 489.1,1561.2 493.5,1566.6 500.1,1563.4 502.3,1552.3 504.5,1541.2 506.7,1530.1M546.2,1037.7 543.4,1051.1 540.5,1064.5 537.6,1077.9 544.2,1090.9 542.6,1100.9 547.2,1106.0 551.8,1111.1 559.4,1123.0 566.2,1138.8 573.1,1140.2 569.9,1148.9 566.8,1157.6 562.6,1171.3 558.9,1183.0 565.3,1187.5 576.8,1180.2 580.9,1193.4 585.0,1206.7 584.5,1216.9 589.4,1226.1 594.4,1235.4 598.1,1239.3 606.6,1237.1 615.0,1234.9 626.4,1237.2 637.8,1239.5 643.4,1232.2 650.2,1244.0M856.6,1597.3 868.9,1598.2 881.2,1599.0 893.5,1599.8 905.8,1600.5 918.1,1601.2 930.5,1601.9 942.8,1602.5 955.1,1603.0 954.4,1619.0 953.7,1634.9 953.1,1650.8 952.4,1666.8 951.7,1682.7 961.4,1689.7 969.7,1692.0 978.0,1694.4 987.9,1697.8 997.8,1701.1 1006.2,1702.4 1014.5,1703.6 1019.4,1711.9 1031.9,1715.2 1044.4,1718.5 1054.6,1712.4 1063.8,1716.6 1073.0,1720.8 1082.3,1717.7 1091.5,1714.6 1099.9,1714.0 1108.3,1713.3 1121.8,1718.5 1128.9,1720.7 1136.0,1722.8M1151.3,1748.0 1151.6,1762.1 1151.9,1776.1 1152.2,1790.2 1157.8,1793.8 1165.9,1809.8 1170.5,1823.6 1167.0,1837.3 1163.6,1848.8 1167.0,1858.0 1162.4,1871.7 1157.8,1879.1M1106.1,1461.7 1115.8,1467.8 1118.9,1471.9 1112.8,1480.2 1119.1,1488.3 1128.6,1497.7 1128.7,1512.2 1128.8,1526.7 1128.9,1541.3 1129.1,1555.8 1129.2,1570.3 1129.3,1584.9M846.6,1328.6 858.3,1329.5 870.0,1330.4 881.7,1331.3 893.4,1332.1 905.1,1332.9 916.9,1333.6 928.6,1334.3 940.3,1334.9 952.1,1335.5 963.8,1336.0 975.5,1336.5 987.3,1337.0 999.0,1337.3 1010.7,1337.7 1018.0,1342.4 1025.4,1347.0 1034.3,1345.4 1043.2,1343.7 1049.2,1345.8 1055.1,1347.9 1063.9,1355.0 1071.4,1359.5M1071.4,1359.5 1074.3,1371.4 1078.0,1379.6 1081.8,1387.8 1081.8,1400.2 1087.8,1412.5 1088.6,1420.7 1089.4,1428.9 1091.9,1437.9M1196.3,1185.0 1188.9,1187.3 1189.3,1199.3 1189.8,1211.2 1184.1,1214.9 1178.4,1218.6 1173.8,1232.2 1180.6,1238.9 1178.3,1255.3 1177.2,1265.5 1184.6,1270.4 1192.0,1275.2 1203.9,1282.9 1210.2,1292.8 1216.2,1296.7 1222.3,1300.5 1225.3,1314.6M1244.7,1354.2 1252.3,1362.4 1260.3,1370.1 1259.5,1382.5 1255.6,1393.0 1245.2,1396.7 1234.8,1400.4 1233.7,1408.6 1238.8,1418.7 1234.9,1431.2 1225.6,1442.8M1225.6,1442.8 1223.9,1458.5 1227.5,1468.6 1239.0,1480.4 1248.9,1490.2 1252.7,1502.3 1259.8,1502.9 1266.9,1503.5 1268.2,1513.7 1263.8,1530.5 1271.3,1536.2 1278.8,1541.9 1285.7,1548.7 1292.5,1555.5 1293.2,1565.7 1305.4,1578.1M1273.3,1661.8 1265.7,1674.5 1264.8,1686.9 1253.8,1699.9 1249.6,1716.5 1246.9,1729.0 1248.7,1745.3M1248.7,1745.3 1251.9,1761.6 1259.4,1773.5 1255.3,1780.0 1250.2,1789.2 1245.0,1798.3 1239.3,1809.8 1238.1,1818.4 1237.0,1827.0 1250.3,1826.5 1263.6,1826.0 1276.9,1825.4 1290.2,1824.7 1303.5,1824.0 1301.2,1835.0 1308.1,1848.8 1312.7,1854.5M1325.8,1242.1 1324.0,1238.3 1323.3,1232.5 1319.4,1226.8 1318.3,1218.8 1312.5,1215.3 1308.6,1211.2 1297.6,1208.9 1288.4,1206.4 1279.3,1203.9 1270.1,1201.8 1260.9,1199.7 1251.2,1194.1 1241.5,1188.4M1337.9,1541.7 1338.8,1533.3 1339.7,1525.0 1348.1,1511.9 1351.9,1501.2 1350.3,1489.0 1348.8,1476.7 1347.5,1462.6 1346.2,1448.5 1345.0,1434.5 1343.7,1420.4 1342.5,1406.3 1341.2,1392.2 1339.9,1378.1M1337.9,1541.7 1337.4,1554.1 1326.5,1559.1 1326.0,1572.8 1318.6,1570.7 1311.1,1568.6 1305.4,1578.1M1434.1,1478.2 1433.0,1490.8 1424.1,1496.0 1417.2,1505.0 1408.8,1515.5 1402.1,1527.3 1392.0,1522.2 1386.5,1531.0 1376.9,1530.7 1368.1,1539.0 1360.7,1536.6 1353.2,1534.2 1347.2,1537.8 1341.1,1541.4 1337.9,1541.7M1557.1,1396.9 1554.8,1407.3 1555.2,1419.7 1553.3,1436.7 1544.4,1450.6 1534.3,1456.3 1529.6,1467.4 1525.9,1474.2 1517.2,1479.7 1518.4,1487.8 1506.9,1497.0M1506.9,1497.0 1497.5,1486.7 1490.8,1489.7 1484.0,1492.7 1477.6,1492.5 1471.3,1492.3 1463.1,1490.2 1454.9,1488.1 1444.0,1477.0 1434.1,1478.2M1547.0,1567.2 1547.8,1577.0 1538.1,1588.9 1529.5,1592.2 1520.9,1595.5 1511.6,1599.7 1501.5,1610.6 1494.1,1617.0 1487.8,1619.3 1481.5,1621.6 1477.6,1630.4 1470.3,1643.7M1603.3,1747.8 1591.4,1738.5 1585.9,1731.1 1580.4,1723.6 1575.2,1712.0 1566.2,1704.0 1557.4,1696.0 1545.3,1683.3 1532.5,1676.9 1527.0,1668.3 1521.6,1659.7 1512.3,1652.7 1503.8,1651.8 1510.0,1638.5M1466.3,1809.4 1474.4,1820.8 1487.3,1820.0 1500.2,1819.0 1513.1,1818.1 1526.0,1817.1 1538.8,1816.0 1551.7,1814.9 1564.6,1813.7 1566.7,1814.4 1568.1,1819.9 1570.8,1822.0 1574.3,1819.9 1575.0,1814.4 1571.5,1809.6 1572.2,1803.4 1576.3,1802.0 1584.6,1803.4 1592.8,1804.8M1510.0,1638.5 1521.0,1632.9 1532.1,1627.1 1543.3,1626.0 1554.4,1624.9 1565.6,1623.7 1576.8,1622.4 1582.5,1635.3 1592.8,1633.8 1603.2,1632.3 1613.5,1630.8 1623.9,1629.2 1638.3,1639.6 1652.8,1649.9 1667.4,1660.2M1704.8,1476.2 1699.4,1477.7 1693.3,1476.2 1685.7,1473.1 1681.1,1467.8 1677.3,1470.5 1673.9,1468.6 1675.8,1461.0 1673.5,1457.1 1677.3,1457.9 1679.6,1453.3 1683.4,1448.0 1676.6,1444.2 1673.5,1448.8 1669.0,1445.7 1662.1,1442.7 1659.0,1438.1 1653.1,1438.1M1653.1,1438.1 1651.4,1443.4 1638.9,1435.9 1633.8,1436.8 1631.2,1447.9 1626.0,1455.7 1622.6,1466.0 1615.7,1466.9 1612.2,1481.5 1601.9,1479.8 1596.8,1490.1 1591.6,1503.0 1586.4,1515.9 1582.1,1526.2 1575.7,1528.8 1569.2,1531.4 1568.4,1534.0 1558.9,1538.3 1552.9,1536.5 1546.9,1542.6 1539.4,1536.2 1532.0,1529.9M1653.1,1438.1 1652.6,1432.0 1648.8,1425.5 1640.0,1422.9 1633.8,1425.1 1629.5,1428.7 1620.8,1433.3 1616.5,1431.6 1612.2,1438.5 1607.1,1440.2 1599.3,1451.4 1597.2,1440.1 1595.1,1428.8M1726.7,1336.2 1716.2,1331.4 1710.5,1323.8 1704.8,1316.2 1701.0,1312.8 1689.2,1315.4 1677.5,1318.0 1665.8,1320.5 1654.0,1323.0 1642.3,1325.4 1630.5,1327.8 1618.8,1330.1 1607.0,1332.4 1595.2,1334.6 1583.4,1336.8 1571.6,1338.9 1570.6,1328.8M1718.0,1401.2 1721.9,1403.8 1729.5,1392.4 1738.1,1382.9 1723.8,1371.4 1719.0,1363.8 1721.9,1356.2 1719.0,1352.4 1726.7,1336.2M1733.3,1181.0 1735.2,1190.5 1737.1,1200.0 1741.0,1211.4 1740.0,1222.9 1743.8,1236.2 1746.7,1238.1 1750.5,1252.9 1754.3,1267.6M1783.8,1168.0 1785.7,1177.1 1784.8,1190.5 1776.2,1198.1 1777.1,1211.4 1774.3,1228.6 1774.8,1237.1 1775.2,1245.7 1776.2,1261.9" fill="none" stroke="#ffffff" stroke-opacity="0.9" stroke-width="2.5" stroke-linejoin="round" stroke-linecap="round"/>
<path d="M520.3,1032.0 517.0,1046.5 513.7,1061.0 510.4,1075.5 507.1,1090.0 503.8,1104.6 500.5,1119.2 497.2,1133.8 498.2,1144.4 496.7,1151.2M305.8,1096.4 312.5,1095.4 319.2,1094.4 326.2,1100.7 332.4,1104.7 332.6,1114.3 332.7,1123.9 338.3,1127.6 344.0,1131.3 356.4,1129.3 362.1,1130.0 367.8,1130.8 374.7,1137.7 383.0,1137.2 391.2,1136.7 397.4,1138.3 403.6,1139.9 412.8,1138.3 422.0,1136.7 433.2,1139.1 439.9,1137.8 449.3,1140.1 458.8,1142.4 468.3,1144.6 477.7,1146.8 487.2,1149.0 496.7,1151.2M650.2,1244.0 648.0,1258.3 645.7,1272.5 643.4,1286.8 641.1,1301.0 638.9,1315.3 636.6,1329.6 634.3,1343.9M650.2,1244.0 651.9,1233.4 653.7,1222.7 664.7,1224.4 675.8,1226.1 686.8,1227.8 697.9,1229.4 709.0,1230.9 720.1,1232.4 731.2,1233.9 742.2,1235.3 753.3,1236.7 764.5,1238.0 775.6,1239.3 786.7,1240.6 797.8,1241.8 808.9,1242.9 820.1,1244.0 831.2,1245.1 842.3,1246.1 853.5,1247.1M853.5,1247.1 852.1,1263.3 850.7,1279.6 849.3,1295.9 848.0,1312.2 846.6,1328.6M846.6,1328.6 845.2,1344.9 843.8,1361.2 842.4,1377.6 841.0,1393.9 839.6,1410.3M688.1,1393.4 699.8,1395.0 711.4,1396.5 723.0,1398.0 734.7,1399.5 746.3,1400.9 757.9,1402.2 769.6,1403.5 781.3,1404.8 792.9,1406.0 804.6,1407.1 816.3,1408.2 828.0,1409.3 839.6,1410.3M634.3,1343.9 632.1,1357.4 630.0,1370.9 627.8,1384.4 639.9,1386.3 651.9,1388.2 664.0,1390.0 676.1,1391.7 688.1,1393.4" fill="none" stroke="#ffffff" stroke-width="2.2" stroke-linejoin="round" stroke-linecap="round"/>
<path d="M282.8,1831.0 289.2,1823.0 303.5,1824.4 310.7,1817.3 326.4,1805.8 343.6,1798.6 368.0,1793.5 372.3,1797.8 369.4,1804.4 376.6,1799.5 379.5,1807.2 390.9,1808.7 392.4,1814.4 395.2,1818.7 408.1,1817.3 423.9,1823.0 438.2,1828.7 444.0,1831.6 452.6,1829.3 469.8,1838.8 469.8,2030.0 476.9,2033.7 484.1,2031.7 487.0,2038.0 494.1,2040.9 492.7,2045.2 504.2,2055.2 512.8,2059.5 519.9,2045.2 527.1,2040.9 532.8,2049.5 550.0,2066.7 555.8,2078.2 567.2,2092.5 573.0,2098.2 593.1,2106.8 597.4,2124.0 593.1,2136.9 585.9,2132.6 575.8,2139.8 567.2,2138.4 557.2,2124.0 550.0,2112.6 541.4,2109.7 530.0,2092.5 521.4,2081.0 517.1,2069.6 504.2,2062.4 492.7,2052.4 482.7,2048.1 468.3,2038.0 452.6,2035.2 435.4,2032.3 423.9,2026.6 416.7,2022.3 412.4,2015.1 406.7,2019.4 406.7,2029.4 402.4,2036.6 395.2,2032.3 389.5,2029.4 372.3,2040.9 359.4,2045.2 356.5,2042.3 366.6,2029.4 372.3,2019.4 383.8,2010.8 378.0,2005.1 366.6,2009.4 358.0,2018.0 346.5,2032.3 335.0,2039.5 333.6,2045.2 340.8,2048.1 332.2,2056.7 317.8,2063.8 303.5,2070.1 292.0,2081.0 276.2,2083.3 274.8,2091.1 249.0,2092.5 243.3,2096.8 228.9,2098.2 214.6,2100.5 197.4,2103.4 194.0,2099.7 206.0,2095.4 217.5,2095.4 227.5,2091.9 237.5,2086.8 246.1,2089.1 257.6,2081.0 276.2,2073.0 292.0,2062.4 303.5,2036.6 292.0,2036.6 289.2,2040.9 280.6,2042.3 277.7,2032.3 254.7,2030.9 257.6,2019.4 259.0,2000.8 246.1,2002.2 239.0,2000.8 233.2,1983.6 239.0,1976.4 233.2,1966.4 233.2,1959.2 246.1,1947.7 254.7,1937.7 263.3,1936.2 266.2,1942.0 280.6,1937.7 292.0,1936.2 296.3,1929.1 296.3,1920.5 300.6,1914.7 294.9,1909.0 289.2,1910.4 280.6,1907.6 263.3,1904.7 254.7,1894.7 257.6,1890.4 256.2,1886.1 247.6,1874.6 261.9,1871.7 276.2,1881.8 269.1,1871.7 284.9,1870.3 282.0,1878.9 292.0,1884.6 306.4,1884.6 307.8,1868.9 300.6,1863.1 293.5,1848.8 292.0,1841.6 286.3,1835.9ZM199.7,1903.3 203.1,1898.1 207.4,1904.7 213.2,1906.1 220.3,1917.6 214.6,1914.7 208.9,1909.0ZM208.9,1983.6 213.2,1981.5 221.8,1984.1 223.8,1989.3 220.3,1992.2 213.2,1987.9ZM319.3,2078.2 325.0,2072.4 332.2,2071.0 340.8,2063.8 349.4,2059.5 350.8,2063.8 346.5,2076.7 335.0,2083.9 325.0,2090.2 320.7,2083.9ZM137.2,2109.7 147.2,2106.3 157.3,2109.7 163.0,2102.5 171.6,2108.3 157.3,2112.0 145.8,2111.1ZM175.9,2104.0 181.6,2102.5 180.2,2106.3Z" fill="#4bd395"/>
<path d="M519.9,2053.8 L532.8,2075.3 L541.4,2098.2 L550.0,2109.7M530.0,2052.4 L544.3,2075.3 L561.5,2101.1 L573.0,2121.2 L575.8,2135.5M550.0,2083.9 L561.5,2118.3 L567.2,2134.1M575.8,2104.0 L581.6,2121.2 L585.9,2131.2" fill="none" stroke="#f1f3f2" stroke-width="1.2" stroke-opacity="0.75"/>
<path d="M618.9,1939.2 622.4,1935.3 624.9,1934.1 624.1,1937.0 620.6,1938.7ZM636.1,1931.0 640.4,1925.8 646.4,1924.6 652.5,1925.8 653.0,1931.0 650.7,1935.3 645.6,1937.8 639.6,1935.3ZM694.3,1954.2 698.9,1951.6 703.2,1946.8 705.8,1949.0 708.4,1956.8 712.7,1959.3 713.5,1962.8 709.2,1963.6 704.1,1961.1 699.8,1961.9ZM729.9,1967.9 737.6,1968.8 750.5,1970.2 747.1,1972.8 737.6,1970.5 730.4,1970.5ZM739.3,1980.0 744.5,1980.8 746.7,1983.9 742.8,1985.1 740.2,1982.2ZM753.1,1975.7 756.5,1974.5 759.1,1977.4 760.8,1980.8 766.9,1978.8 772.0,1980.8 778.0,1986.0 773.7,1989.5 767.7,1992.0 764.3,1991.2 762.6,1986.0 757.4,1984.3 754.0,1980.8ZM752.2,1995.1 756.9,1993.8 755.7,1995.0ZM783.2,2006.3 786.6,2005.8 790.9,2008.4 796.1,2011.8 805.6,2014.9 811.6,2019.6 814.2,2023.0 813.3,2026.4 817.6,2028.2 818.1,2031.6 823.6,2035.9 818.5,2040.2 813.3,2044.5 806.4,2046.2 799.5,2050.5 792.3,2058.6 784.1,2054.8 784.9,2046.2 782.3,2035.9 777.5,2027.3 784.9,2018.7 786.6,2014.4 783.2,2010.1Z" fill="#62b8a8"/>
<g fill="none" stroke="#2b2829" stroke-width="2.1" stroke-linecap="round" opacity="0.9">
<path d="M214.5,923.0 L214.5,1059.5 Q214.5,1067.5 222.5,1067.5 L419.5,1067.5"/>
<path d="M519.6,923.0 L519.6,1114.0 Q519.6,1122.0 527.6,1122.0 L665.2,1122.0 Q673.2,1122.0 673.2,1130.0 L673.2,1259.5"/>
<path d="M744.0,760.4 L744.0,1008.5 Q744.0,1016.5 752.0,1016.5 L883.7,1016.5 Q891.7,1016.5 891.7,1024.5 L891.7,1250.0"/>
<path d="M924.0,915.0 L924.0,1147.0"/>
<path d="M1030.7,760.4 L1030.7,1144.7 Q1030.7,1152.7 1038.7,1152.7 L1110.0,1152.7"/>
<path d="M1371.5,760.4 L1371.5,1423.4"/>
<path d="M1225.8,837.5 L1292.7,837.5 Q1300.7,837.5 1300.7,845.5 L1300.7,1254.0"/>
<path d="M1225.8,956.3 L1251.3,956.3 Q1259.3,956.3 1259.3,964.3 L1259.3,1429.8"/>
<path d="M1697.7,757.6 L1697.7,1269.0 Q1697.7,1277.0 1705.7,1277.0 L1785.0,1277.0"/>
<path d="M1789.0,688.6 L1739.0,688.6 Q1731.0,688.6 1731.0,696.6 L1731.0,1227.0"/>
<path d="M1668.6,901.0 L1668.6,1335.5"/>
<path d="M1894.8,830.0 L1781.2,830.0 Q1773.2,830.0 1773.2,838.0 L1773.2,1178.6"/>
<path d="M1894.8,956.0 L1799.6,956.0 Q1791.6,956.0 1791.6,964.0 L1791.6,1183.8"/>
<path d="M1587.4,956.3 L1626.9,956.3 Q1634.9,956.3 1634.9,964.3 L1634.9,1451.0 Q1634.9,1459.0 1626.9,1459.0 L1575.6,1459.0"/>
<path d="M1466.3,1112.5 L1416.9,1112.5 Q1408.9,1112.5 1408.9,1120.5 L1408.9,1309.0"/>
<path d="M1895.0,1113.6 L1837.6,1113.6"/>
<path d="M1895.0,1239.2 L1822.9,1239.2 Q1814.9,1239.2 1814.9,1247.2 L1814.9,1292.7"/>
<path d="M1862.4,1349.5 L1862.4,1316.3 Q1862.4,1308.3 1854.4,1308.3 L1794.9,1308.3"/>
<path d="M1895.0,1508.9 L1828.4,1508.9 Q1820.4,1508.9 1820.4,1500.9 L1820.4,1361.4 Q1820.4,1353.4 1812.4,1353.4 L1743.1,1353.4"/>
<path d="M1895.0,1635.3 L1808.6,1635.3 Q1800.6,1635.3 1800.6,1627.3 L1800.6,1439.1 Q1800.6,1431.1 1792.6,1431.1 L1727.9,1431.1"/>
<path d="M1894.8,1755.8 L1787.5,1755.8 Q1779.5,1755.8 1779.5,1747.8 L1779.5,1472.7 Q1779.5,1464.7 1771.5,1464.7 L1728.8,1464.7"/>
<path d="M1894.8,1879.7 L1771.9,1879.7 Q1763.9,1879.7 1763.9,1871.7 L1763.9,1508.9 Q1763.9,1500.9 1755.9,1500.9 L1684.8,1500.9"/>
<path d="M1894.8,2003.5 L1754.8,2003.5 Q1746.8,2003.5 1746.8,1995.5 L1746.8,1578.4 Q1746.8,1570.4 1738.8,1570.4 L1685.0,1570.4"/>
<path d="M1665.5,1727.5 L1665.5,1697.4 Q1665.5,1689.4 1657.5,1689.4 L1603.7,1689.4"/>
<path d="M1786.0,2142.8 L1730.5,2142.8 Q1722.5,2142.8 1722.5,2134.8 L1722.5,1881.2 Q1722.5,1873.2 1714.5,1873.2 L1573.3,1873.2 Q1565.3,1873.2 1565.3,1865.2 L1565.3,1774.5"/>
<path d="M1645.0,2106.9 L1645.0,1973.7"/>
<path d="M1516.6,1963.5 L1516.6,1588.6"/>
<path d="M1326.3,1963.6 L1326.3,1585.4"/>
<path d="M1436.9,2105.8 L1436.9,1804.0"/>
<path d="M1252.0,2105.8 L1252.0,1818.0"/>
<path d="M1061.6,2141.3 L1175.6,2141.3 Q1183.6,2141.3 1183.6,2133.3 L1183.6,1858.2"/>
<path d="M1070.2,2000.8 L1151.2,2000.8 Q1159.2,2000.8 1159.2,1992.8 L1159.2,1715.9"/>
<path d="M706.7,2105.8 L706.7,1977.2"/>
<path d="M174.9,1889.4 L407.6,1889.4"/>
<path d="M142.4,1261.8 L142.4,1378.0 Q142.4,1386.0 150.4,1386.0 L285.9,1386.0"/>
</g>
<polygon points="424.5,1067.5 416.1,1071.9 416.1,1063.1" fill="#2b2829"/>
<polygon points="673.2,1264.5 668.8,1256.1 677.6,1256.1" fill="#2b2829"/>
<polygon points="891.7,1255.0 887.3,1246.6 896.1,1246.6" fill="#2b2829"/>
<polygon points="924.0,1152.0 919.6,1143.6 928.4,1143.6" fill="#2b2829"/>
<polygon points="1115.0,1152.7 1106.6,1157.1 1106.6,1148.3" fill="#2b2829"/>
<polygon points="1371.5,1428.4 1367.1,1420.0 1375.9,1420.0" fill="#2b2829"/>
<polygon points="1300.7,1259.0 1296.3,1250.6 1305.1,1250.6" fill="#2b2829"/>
<polygon points="1259.3,1434.8 1254.9,1426.4 1263.7,1426.4" fill="#2b2829"/>
<polygon points="1790.0,1277.0 1781.6,1281.4 1781.6,1272.6" fill="#2b2829"/>
<polygon points="1731.0,1232.0 1726.6,1223.6 1735.4,1223.6" fill="#2b2829"/>
<polygon points="1668.6,1340.5 1664.2,1332.1 1673.0,1332.1" fill="#2b2829"/>
<polygon points="1773.2,1183.6 1768.8,1175.2 1777.6,1175.2" fill="#2b2829"/>
<polygon points="1791.6,1188.8 1787.2,1180.4 1796.0,1180.4" fill="#2b2829"/>
<polygon points="1570.6,1459.0 1579.0,1454.6 1579.0,1463.4" fill="#2b2829"/>
<polygon points="1408.9,1314.0 1404.5,1305.6 1413.3,1305.6" fill="#2b2829"/>
<polygon points="1832.6,1113.6 1841.0,1109.2 1841.0,1118.0" fill="#2b2829"/>
<polygon points="1814.9,1297.7 1810.5,1289.3 1819.3,1289.3" fill="#2b2829"/>
<polygon points="1789.9,1308.3 1798.3,1303.9 1798.3,1312.7" fill="#2b2829"/>
<polygon points="1738.1,1353.4 1746.5,1349.0 1746.5,1357.8" fill="#2b2829"/>
<polygon points="1722.9,1431.1 1731.3,1426.7 1731.3,1435.5" fill="#2b2829"/>
<polygon points="1723.8,1464.7 1732.2,1460.3 1732.2,1469.1" fill="#2b2829"/>
<polygon points="1679.8,1500.9 1688.2,1496.5 1688.2,1505.3" fill="#2b2829"/>
<polygon points="1680.0,1570.4 1688.4,1566.0 1688.4,1574.8" fill="#2b2829"/>
<polygon points="1598.7,1689.4 1607.1,1685.0 1607.1,1693.8" fill="#2b2829"/>
<polygon points="1565.3,1769.5 1569.7,1777.9 1560.9,1777.9" fill="#2b2829"/>
<polygon points="1645.0,1968.7 1649.4,1977.1 1640.6,1977.1" fill="#2b2829"/>
<polygon points="1516.6,1583.6 1521.0,1592.0 1512.2,1592.0" fill="#2b2829"/>
<polygon points="1326.3,1580.4 1330.7,1588.8 1321.9,1588.8" fill="#2b2829"/>
<polygon points="1436.9,1799.0 1441.3,1807.4 1432.5,1807.4" fill="#2b2829"/>
<polygon points="1252.0,1813.0 1256.4,1821.4 1247.6,1821.4" fill="#2b2829"/>
<polygon points="1183.6,1853.2 1188.0,1861.6 1179.2,1861.6" fill="#2b2829"/>
<polygon points="1159.2,1710.9 1163.6,1719.3 1154.8,1719.3" fill="#2b2829"/>
<polygon points="706.7,1972.2 711.1,1980.6 702.3,1980.6" fill="#2b2829"/>
<polygon points="412.6,1889.4 404.2,1893.8 404.2,1885.0" fill="#2b2829"/>
<polygon points="290.9,1386.0 282.5,1390.4 282.5,1381.6" fill="#2b2829"/>
<defs><filter id="grunge" x="-3%" y="-3%" width="106%" height="106%"><feTurbulence type="fractalNoise" baseFrequency="0.22" numOctaves="2" seed="11" result="n"/><feColorMatrix in="n" type="matrix" values="0 0 0 0 0  0 0 0 0 0  0 0 0 0 0  0 0 0 -3.2 2.1" result="a"/><feComposite in="SourceGraphic" in2="a" operator="in"/></filter></defs>
<path d="M83.5,765 H345.5 V883 Q345.5,887.5 341.0,887.5 H230.7 L214.2,911 L197.7,887.5 H88.0 Q83.5,887.5 83.5,883 Z" fill="#c9a3f1"/>
<path d="M83.5,765 H345.5 V883 Q345.5,887.5 341.0,887.5 H230.7 L214.2,911 L197.7,887.5 H88.0 Q83.5,887.5 83.5,883 Z" fill="#a564e0" filter="url(#grunge)"/>
<path d="M89.5,765 H339.5 V881.5 H228.2 L214.2,902 L200.2,881.5 H89.5 Z" fill="#a564e0"/>
<path d="M88.0,663.5 H341.0 Q345.5,663.5 345.5,668 V765 H83.5 V668 Q83.5,663.5 88.0,663.5 Z" fill="#6b6869"/>
<path d="M88.0,663.5 H341.0 Q345.5,663.5 345.5,668 V765 H83.5 V668 Q83.5,663.5 88.0,663.5 Z" fill="#221f20" filter="url(#grunge)"/>
<rect x="89.5" y="670" width="250.0" height="95" fill="#221f20"/>
<text x="111.4" y="712.0" font-family="Liberation Sans, sans-serif" font-size="29.5" font-weight="700" fill="#ffffff">Most</text>
<text x="111.4" y="746.0" font-family="Liberation Sans, sans-serif" font-size="29.5" font-weight="700" fill="#ffffff" textLength="180.0" lengthAdjust="spacingAndGlyphs">Competitive</text>
<text x="111.4" y="816.6" font-family="Liberation Sans, sans-serif" font-size="31.0" font-weight="700" fill="#ffffff" textLength="88.0" lengthAdjust="spacingAndGlyphs">41.00</text>
<text x="112.2" y="854.0" font-family="Liberation Sans, sans-serif" font-size="25.5" font-weight="400" fill="#ffffff" textLength="170.0" lengthAdjust="spacingAndGlyphs" stroke="#ffffff" stroke-width="0.5">WASHINGTON</text>
<path d="M388.5,765 H650.5 V883 Q650.5,887.5 646.0,887.5 H535.9 L519.4,911 L502.9,887.5 H393.0 Q388.5,887.5 388.5,883 Z" fill="#9be9c4"/>
<path d="M388.5,765 H650.5 V883 Q650.5,887.5 646.0,887.5 H535.9 L519.4,911 L502.9,887.5 H393.0 Q388.5,887.5 388.5,883 Z" fill="#46c98d" filter="url(#grunge)"/>
<path d="M394.5,765 H644.5 V881.5 H533.4 L519.4,902 L505.4,881.5 H394.5 Z" fill="#46c98d"/>
<path d="M393.0,663.5 H646.0 Q650.5,663.5 650.5,668 V765 H388.5 V668 Q388.5,663.5 393.0,663.5 Z" fill="#6b6869"/>
<path d="M393.0,663.5 H646.0 Q650.5,663.5 650.5,668 V765 H388.5 V668 Q388.5,663.5 393.0,663.5 Z" fill="#221f20" filter="url(#grunge)"/>
<rect x="394.5" y="670" width="250.0" height="95" fill="#221f20"/>
<text x="416.0" y="712.0" font-family="Liberation Sans, sans-serif" font-size="29.5" font-weight="700" fill="#ffffff">Least</text>
<text x="416.0" y="746.0" font-family="Liberation Sans, sans-serif" font-size="29.5" font-weight="700" fill="#ffffff" textLength="180.0" lengthAdjust="spacingAndGlyphs">Competitive</text>
<text x="416.0" y="816.6" font-family="Liberation Sans, sans-serif" font-size="31.0" font-weight="700" fill="#ffffff" textLength="71.0" lengthAdjust="spacingAndGlyphs">3.64</text>
<text x="416.8" y="854.0" font-family="Liberation Sans, sans-serif" font-size="25.5" font-weight="400" fill="#ffffff" textLength="126.0" lengthAdjust="spacingAndGlyphs" stroke="#ffffff" stroke-width="0.5">WYOMING</text>
<rect x="740.0" y="665.0" width="89.0" height="48.0" rx="3" fill="#4bd395"/>
<text x="751.5" y="700.5" font-family="Liberation Sans, sans-serif" font-size="32.0" font-weight="700" fill="#ffffff" textLength="66.0" lengthAdjust="spacingAndGlyphs">4.12</text>
<text x="739.0" y="747.0" font-family="Liberation Sans, sans-serif" font-size="26.0" font-weight="400" fill="#272324" textLength="196.0" lengthAdjust="spacingAndGlyphs" stroke="#272324" stroke-width="0.55">SOUTH DAKOTA</text>
<rect x="792.0" y="814.6" width="87.4" height="47.4" rx="3" fill="#4bd395"/>
<text x="803.5" y="849.8" font-family="Liberation Sans, sans-serif" font-size="32.0" font-weight="700" fill="#ffffff" textLength="64.4" lengthAdjust="spacingAndGlyphs">4.21</text>
<text x="791.5" y="896.0" font-family="Liberation Sans, sans-serif" font-size="26.0" font-weight="400" fill="#272324" textLength="194.5" lengthAdjust="spacingAndGlyphs" stroke="#272324" stroke-width="0.55">NORTH DAKOTA</text>
<rect x="1030.7" y="663.0" width="109.6" height="51.0" rx="3" fill="#9381d3"/>
<text x="1043.2" y="700.0" font-family="Liberation Sans, sans-serif" font-size="32.0" font-weight="700" fill="#ffffff" textLength="84.6" lengthAdjust="spacingAndGlyphs">17.32</text>
<text x="1030.7" y="747.0" font-family="Liberation Sans, sans-serif" font-size="26.0" font-weight="400" fill="#272324" textLength="147.7" lengthAdjust="spacingAndGlyphs" stroke="#272324" stroke-width="0.55">MINNESOTA</text>
<rect x="1275.6" y="665.0" width="109.4" height="48.0" rx="3" fill="#7b9cbf"/>
<text x="1288.1" y="700.5" font-family="Liberation Sans, sans-serif" font-size="32.0" font-weight="700" fill="#ffffff" textLength="84.4" lengthAdjust="spacingAndGlyphs">14.56</text>
<text x="1274.8" y="747.0" font-family="Liberation Sans, sans-serif" font-size="26.0" font-weight="400" fill="#272324" textLength="101.2" lengthAdjust="spacingAndGlyphs" stroke="#272324" stroke-width="0.55">INDIANA</text>
<rect x="1105.4" y="814.6" width="110.4" height="47.4" rx="3" fill="#7b9cbf"/>
<text x="1117.9" y="849.8" font-family="Liberation Sans, sans-serif" font-size="32.0" font-weight="700" fill="#ffffff" textLength="85.4" lengthAdjust="spacingAndGlyphs">13.84</text>
<text x="1104.6" y="896.0" font-family="Liberation Sans, sans-serif" font-size="26.0" font-weight="400" fill="#272324" textLength="141.3" lengthAdjust="spacingAndGlyphs" stroke="#272324" stroke-width="0.55">WISCONSIN</text>
<rect x="1103.8" y="931.0" width="114.0" height="50.0" rx="3" fill="#aa66e8"/>
<text x="1116.3" y="967.5" font-family="Liberation Sans, sans-serif" font-size="32.0" font-weight="700" fill="#ffffff" textLength="89.0" lengthAdjust="spacingAndGlyphs">22.72</text>
<text x="1104.6" y="1013.0" font-family="Liberation Sans, sans-serif" font-size="26.0" font-weight="400" fill="#272324" textLength="103.1" lengthAdjust="spacingAndGlyphs" stroke="#272324" stroke-width="0.55">ILLINOIS</text>
<rect x="1482.2" y="663.0" width="108.4" height="51.0" rx="3" fill="#aa66e8"/>
<text x="1494.7" y="700.0" font-family="Liberation Sans, sans-serif" font-size="32.0" font-weight="700" fill="#ffffff" textLength="83.4" lengthAdjust="spacingAndGlyphs">27.81</text>
<text x="1482.0" y="747.0" font-family="Liberation Sans, sans-serif" font-size="26.0" font-weight="400" fill="#272324" textLength="221.0" lengthAdjust="spacingAndGlyphs" stroke="#272324" stroke-width="0.55">MASSACHUSETTS</text>
<rect x="1798.9" y="663.0" width="117.1" height="51.0" rx="3" fill="#aa66e8"/>
<text x="1811.4" y="700.0" font-family="Liberation Sans, sans-serif" font-size="32.0" font-weight="700" fill="#ffffff" textLength="92.1" lengthAdjust="spacingAndGlyphs">25.49</text>
<text x="1799.7" y="747.0" font-family="Liberation Sans, sans-serif" font-size="26.0" font-weight="400" fill="#272324" textLength="129.3" lengthAdjust="spacingAndGlyphs" stroke="#272324" stroke-width="0.55">NEW YORK</text>
<rect x="1482.2" y="805.0" width="119.6" height="51.0" rx="3" fill="#aa66e8"/>
<text x="1494.7" y="842.0" font-family="Liberation Sans, sans-serif" font-size="32.0" font-weight="700" fill="#ffffff" textLength="94.6" lengthAdjust="spacingAndGlyphs">20.94</text>
<text x="1482.0" y="889.0" font-family="Liberation Sans, sans-serif" font-size="26.0" font-weight="400" fill="#272324" textLength="191.7" lengthAdjust="spacingAndGlyphs" stroke="#272324" stroke-width="0.55">PENNSYLVANIA</text>
<rect x="1907.3" y="806.0" width="89.5" height="48.0" rx="3" fill="#4bd395"/>
<text x="1918.8" y="841.5" font-family="Liberation Sans, sans-serif" font-size="32.0" font-weight="700" fill="#ffffff" textLength="66.5" lengthAdjust="spacingAndGlyphs">5.14</text>
<text x="1906.9" y="889.0" font-family="Liberation Sans, sans-serif" font-size="26.0" font-weight="400" fill="#272324" textLength="121.0" lengthAdjust="spacingAndGlyphs" stroke="#272324" stroke-width="0.55">VERMONT</text>
<rect x="1483.4" y="932.0" width="93.6" height="48.0" rx="3" fill="#4bd395"/>
<text x="1494.9" y="967.5" font-family="Liberation Sans, sans-serif" font-size="32.0" font-weight="700" fill="#ffffff" textLength="70.6" lengthAdjust="spacingAndGlyphs">5.20</text>
<text x="1482.0" y="1014.0" font-family="Liberation Sans, sans-serif" font-size="26.0" font-weight="400" fill="#272324" textLength="69.5" lengthAdjust="spacingAndGlyphs" stroke="#272324" stroke-width="0.55">WEST</text>
<text x="1482.0" y="1044.6" font-family="Liberation Sans, sans-serif" font-size="26.0" font-weight="400" fill="#272324" textLength="108.4" lengthAdjust="spacingAndGlyphs" stroke="#272324" stroke-width="0.55">VIRGINIA</text>
<rect x="1907.3" y="932.0" width="92.7" height="48.0" rx="3" fill="#4bd395"/>
<text x="1918.8" y="967.5" font-family="Liberation Sans, sans-serif" font-size="32.0" font-weight="700" fill="#ffffff" textLength="69.7" lengthAdjust="spacingAndGlyphs">8.32</text>
<text x="1907.0" y="1014.0" font-family="Liberation Sans, sans-serif" font-size="26.0" font-weight="400" fill="#272324" textLength="53.0" lengthAdjust="spacingAndGlyphs" stroke="#272324" stroke-width="0.55">NEW</text>
<text x="1907.0" y="1044.6" font-family="Liberation Sans, sans-serif" font-size="26.0" font-weight="400" fill="#272324" textLength="146.5" lengthAdjust="spacingAndGlyphs" stroke="#272324" stroke-width="0.55">HAMPSHIRE</text>
<rect x="1482.3" y="1088.4" width="111.6" height="50.2" rx="3" fill="#9381d3"/>
<text x="1494.8" y="1125.0" font-family="Liberation Sans, sans-serif" font-size="32.0" font-weight="700" fill="#ffffff" textLength="86.6" lengthAdjust="spacingAndGlyphs">15.88</text>
<text x="1483.0" y="1171.5" font-family="Liberation Sans, sans-serif" font-size="26.0" font-weight="400" fill="#272324" textLength="122.5" lengthAdjust="spacingAndGlyphs" stroke="#272324" stroke-width="0.55">MICHIGAN</text>
<rect x="1907.2" y="1089.6" width="92.9" height="47.8" rx="3" fill="#4bd395"/>
<text x="1918.7" y="1125.0" font-family="Liberation Sans, sans-serif" font-size="32.0" font-weight="700" fill="#ffffff" textLength="69.9" lengthAdjust="spacingAndGlyphs">5.65</text>
<text x="1907.0" y="1171.2" font-family="Liberation Sans, sans-serif" font-size="26.0" font-weight="400" fill="#272324" textLength="79.4" lengthAdjust="spacingAndGlyphs" stroke="#272324" stroke-width="0.55">MAINE</text>
<rect x="1906.3" y="1214.2" width="113.0" height="50.0" rx="3" fill="#62b8a8"/>
<text x="1918.8" y="1250.7" font-family="Liberation Sans, sans-serif" font-size="32.0" font-weight="700" fill="#ffffff" textLength="88.0" lengthAdjust="spacingAndGlyphs">10.33</text>
<text x="1907.0" y="1297.0" font-family="Liberation Sans, sans-serif" font-size="26.0" font-weight="400" fill="#272324" textLength="85.5" lengthAdjust="spacingAndGlyphs" stroke="#272324" stroke-width="0.55">RHODE</text>
<text x="1907.0" y="1327.2" font-family="Liberation Sans, sans-serif" font-size="26.0" font-weight="400" fill="#272324" textLength="88.6" lengthAdjust="spacingAndGlyphs" stroke="#272324" stroke-width="0.55">ISLAND</text>
<rect x="1844.4" y="1356.5" width="101.5" height="50.5" rx="3" fill="#9381d3"/>
<text x="1856.9" y="1393.2" font-family="Liberation Sans, sans-serif" font-size="32.0" font-weight="700" fill="#ffffff" textLength="76.5" lengthAdjust="spacingAndGlyphs">17.19</text>
<text x="1845.7" y="1440.0" font-family="Liberation Sans, sans-serif" font-size="26.0" font-weight="400" fill="#272324" textLength="176.3" lengthAdjust="spacingAndGlyphs" stroke="#272324" stroke-width="0.55">CONNECTICUT</text>
<rect x="1906.3" y="1483.6" width="114.6" height="50.2" rx="3" fill="#aa66e8"/>
<text x="1918.8" y="1520.2" font-family="Liberation Sans, sans-serif" font-size="32.0" font-weight="700" fill="#ffffff" textLength="89.6" lengthAdjust="spacingAndGlyphs">25.37</text>
<text x="1907.0" y="1566.4" font-family="Liberation Sans, sans-serif" font-size="26.0" font-weight="400" fill="#272324" textLength="154.7" lengthAdjust="spacingAndGlyphs" stroke="#272324" stroke-width="0.55">NEW JERSEY</text>
<rect x="1906.3" y="1610.6" width="96.0" height="49.7" rx="3" fill="#62b8a8"/>
<text x="1917.8" y="1646.9" font-family="Liberation Sans, sans-serif" font-size="32.0" font-weight="700" fill="#ffffff" textLength="73.0" lengthAdjust="spacingAndGlyphs">9.35</text>
<text x="1907.0" y="1692.3" font-family="Liberation Sans, sans-serif" font-size="26.0" font-weight="400" fill="#272324" textLength="134.3" lengthAdjust="spacingAndGlyphs" stroke="#272324" stroke-width="0.55">DELAWARE</text>
<rect x="1907.0" y="1731.8" width="109.9" height="48.1" rx="3" fill="#7b9cbf"/>
<text x="1919.5" y="1767.3" font-family="Liberation Sans, sans-serif" font-size="32.0" font-weight="700" fill="#ffffff" textLength="84.9" lengthAdjust="spacingAndGlyphs">14.22</text>
<text x="1907.0" y="1814.3" font-family="Liberation Sans, sans-serif" font-size="26.0" font-weight="400" fill="#272324" textLength="140.4" lengthAdjust="spacingAndGlyphs" stroke="#272324" stroke-width="0.55">MARYLAND</text>
<rect x="1906.0" y="1854.5" width="105.9" height="50.7" rx="3" fill="#9381d3"/>
<text x="1918.5" y="1891.3" font-family="Liberation Sans, sans-serif" font-size="32.0" font-weight="700" fill="#ffffff" textLength="80.9" lengthAdjust="spacingAndGlyphs">17.10</text>
<text x="1907.0" y="1937.5" font-family="Liberation Sans, sans-serif" font-size="26.0" font-weight="400" fill="#272324" textLength="107.0" lengthAdjust="spacingAndGlyphs" stroke="#272324" stroke-width="0.55">VIRGINIA</text>
<rect x="1906.0" y="1977.7" width="110.2" height="50.6" rx="3" fill="#9381d3"/>
<text x="1918.5" y="2014.5" font-family="Liberation Sans, sans-serif" font-size="32.0" font-weight="700" fill="#ffffff" textLength="85.2" lengthAdjust="spacingAndGlyphs">15.79</text>
<text x="1907.0" y="2060.2" font-family="Liberation Sans, sans-serif" font-size="26.0" font-weight="400" fill="#272324" textLength="85.0" lengthAdjust="spacingAndGlyphs" stroke="#272324" stroke-width="0.55">NORTH</text>
<text x="1907.0" y="2090.7" font-family="Liberation Sans, sans-serif" font-size="26.0" font-weight="400" fill="#272324" textLength="126.0" lengthAdjust="spacingAndGlyphs" stroke="#272324" stroke-width="0.55">CAROLINA</text>
<rect x="1611.3" y="1737.5" width="109.8" height="48.1" rx="3" fill="#7b9cbf"/>
<text x="1623.8" y="1773.0" font-family="Liberation Sans, sans-serif" font-size="32.0" font-weight="700" fill="#ffffff" textLength="84.8" lengthAdjust="spacingAndGlyphs">13.63</text>
<text x="1610.2" y="1819.0" font-family="Liberation Sans, sans-serif" font-size="26.0" font-weight="400" fill="#272324" textLength="85.0" lengthAdjust="spacingAndGlyphs" stroke="#272324" stroke-width="0.55">SOUTH</text>
<text x="1610.2" y="1849.5" font-family="Liberation Sans, sans-serif" font-size="26.0" font-weight="400" fill="#272324" textLength="126.7" lengthAdjust="spacingAndGlyphs" stroke="#272324" stroke-width="0.55">CAROLINA</text>
<rect x="1799.0" y="2117.7" width="115.6" height="50.6" rx="3" fill="#aa66e8"/>
<text x="1811.5" y="2154.5" font-family="Liberation Sans, sans-serif" font-size="32.0" font-weight="700" fill="#ffffff" textLength="90.6" lengthAdjust="spacingAndGlyphs">22.82</text>
<text x="1799.7" y="2200.2" font-family="Liberation Sans, sans-serif" font-size="26.0" font-weight="400" fill="#272324" textLength="107.7" lengthAdjust="spacingAndGlyphs" stroke="#272324" stroke-width="0.55">GEORGIA</text>
<rect x="1569.6" y="2117.7" width="115.6" height="50.6" rx="3" fill="#aa66e8"/>
<text x="1582.1" y="2154.5" font-family="Liberation Sans, sans-serif" font-size="32.0" font-weight="700" fill="#ffffff" textLength="90.6" lengthAdjust="spacingAndGlyphs">23.39</text>
<text x="1570.4" y="2200.2" font-family="Liberation Sans, sans-serif" font-size="26.0" font-weight="400" fill="#272324" textLength="105.5" lengthAdjust="spacingAndGlyphs" stroke="#272324" stroke-width="0.55">FLORIDA</text>
<rect x="1457.8" y="1977.7" width="118.7" height="50.6" rx="3" fill="#9381d3"/>
<text x="1470.3" y="2014.5" font-family="Liberation Sans, sans-serif" font-size="32.0" font-weight="700" fill="#ffffff" textLength="93.7" lengthAdjust="spacingAndGlyphs">20.45</text>
<text x="1457.8" y="2060.2" font-family="Liberation Sans, sans-serif" font-size="26.0" font-weight="400" fill="#272324" textLength="140.9" lengthAdjust="spacingAndGlyphs" stroke="#272324" stroke-width="0.55">TENNESSEE</text>
<rect x="1271.4" y="1979.0" width="109.6" height="48.8" rx="3" fill="#7b9cbf"/>
<text x="1283.9" y="2014.9" font-family="Liberation Sans, sans-serif" font-size="32.0" font-weight="700" fill="#ffffff" textLength="84.6" lengthAdjust="spacingAndGlyphs">15.30</text>
<text x="1270.9" y="2061.0" font-family="Liberation Sans, sans-serif" font-size="26.0" font-weight="400" fill="#272324" textLength="131.9" lengthAdjust="spacingAndGlyphs" stroke="#272324" stroke-width="0.55">KENTUCKY</text>
<rect x="1399.9" y="2117.2" width="106.6" height="51.1" rx="3" fill="#62b8a8"/>
<text x="1412.4" y="2154.2" font-family="Liberation Sans, sans-serif" font-size="32.0" font-weight="700" fill="#ffffff" textLength="81.6" lengthAdjust="spacingAndGlyphs">13.41</text>
<text x="1400.0" y="2200.4" font-family="Liberation Sans, sans-serif" font-size="26.0" font-weight="400" fill="#272324" textLength="123.2" lengthAdjust="spacingAndGlyphs" stroke="#272324" stroke-width="0.55">ALABAMA</text>
<rect x="1206.0" y="2118.4" width="92.4" height="48.6" rx="3" fill="#4bd395"/>
<text x="1217.5" y="2154.2" font-family="Liberation Sans, sans-serif" font-size="32.0" font-weight="700" fill="#ffffff" textLength="69.4" lengthAdjust="spacingAndGlyphs">6.75</text>
<text x="1206.0" y="2200.4" font-family="Liberation Sans, sans-serif" font-size="26.0" font-weight="400" fill="#272324" textLength="148.0" lengthAdjust="spacingAndGlyphs" stroke="#272324" stroke-width="0.55">MISSISSIPPI</text>
<rect x="947.5" y="2117.0" width="101.5" height="51.0" rx="3" fill="#62b8a8"/>
<text x="960.0" y="2154.0" font-family="Liberation Sans, sans-serif" font-size="32.0" font-weight="700" fill="#ffffff" textLength="76.5" lengthAdjust="spacingAndGlyphs">11.15</text>
<text x="947.5" y="2200.4" font-family="Liberation Sans, sans-serif" font-size="26.0" font-weight="400" fill="#272324" textLength="133.0" lengthAdjust="spacingAndGlyphs" stroke="#272324" stroke-width="0.55">LOUISIANA</text>
<rect x="947.5" y="1977.9" width="112.4" height="49.9" rx="3" fill="#62b8a8"/>
<text x="960.0" y="2014.3" font-family="Liberation Sans, sans-serif" font-size="32.0" font-weight="700" fill="#ffffff" textLength="87.4" lengthAdjust="spacingAndGlyphs">12.48</text>
<text x="947.5" y="2061.0" font-family="Liberation Sans, sans-serif" font-size="26.0" font-weight="400" fill="#272324" textLength="137.0" lengthAdjust="spacingAndGlyphs" stroke="#272324" stroke-width="0.55">ARKANSAS</text>
<rect x="655.6" y="2117.2" width="105.0" height="51.1" rx="3" fill="#62b8a8"/>
<text x="668.1" y="2154.2" font-family="Liberation Sans, sans-serif" font-size="32.0" font-weight="700" fill="#ffffff" textLength="80.0" lengthAdjust="spacingAndGlyphs">11.72</text>
<text x="656.2" y="2200.4" font-family="Liberation Sans, sans-serif" font-size="26.0" font-weight="400" fill="#272324" textLength="87.1" lengthAdjust="spacingAndGlyphs" stroke="#272324" stroke-width="0.55">HAWAII</text>
<rect x="70.3" y="1864.9" width="92.9" height="47.5" rx="3" fill="#4bd395"/>
<text x="81.8" y="1900.2" font-family="Liberation Sans, sans-serif" font-size="32.0" font-weight="700" fill="#ffffff" textLength="69.9" lengthAdjust="spacingAndGlyphs">3.92</text>
<text x="69.2" y="1946.8" font-family="Liberation Sans, sans-serif" font-size="26.0" font-weight="400" fill="#272324" textLength="98.0" lengthAdjust="spacingAndGlyphs" stroke="#272324" stroke-width="0.55">ALASKA</text>
<rect x="70.1" y="1164.4" width="108.9" height="47.3" rx="3" fill="#7b9cbf"/>
<text x="82.6" y="1199.6" font-family="Liberation Sans, sans-serif" font-size="32.0" font-weight="700" fill="#ffffff" textLength="83.9" lengthAdjust="spacingAndGlyphs">14.53</text>
<text x="69.5" y="1246.0" font-family="Liberation Sans, sans-serif" font-size="26.0" font-weight="400" fill="#272324" textLength="148.8" lengthAdjust="spacingAndGlyphs" stroke="#272324" stroke-width="0.55">CALIFORNIA</text>
<text x="696.5" y="1152.7" font-family="Liberation Sans, sans-serif" font-size="32.0" font-weight="700" fill="#ffffff" textLength="71.5" lengthAdjust="spacingAndGlyphs">4.50</text>
<text x="697.7" y="1187.6" font-family="Liberation Sans, sans-serif" font-size="25.5" font-weight="400" fill="#ffffff" textLength="124.4" lengthAdjust="spacingAndGlyphs" stroke="#ffffff" stroke-width="0.5">MONTANA</text>
<text x="306.6" y="1212.2" font-family="Liberation Sans, sans-serif" font-size="32.0" font-weight="700" fill="#ffffff" textLength="86.0" lengthAdjust="spacingAndGlyphs">13.80</text>
<text x="308.9" y="1245.5" font-family="Liberation Sans, sans-serif" font-size="25.5" font-weight="400" fill="#ffffff" textLength="103.8" lengthAdjust="spacingAndGlyphs" stroke="#ffffff" stroke-width="0.5">OREGON</text>
<text x="501.0" y="1253.8" font-family="Liberation Sans, sans-serif" font-size="32.0" font-weight="700" fill="#ffffff" textLength="83.5" lengthAdjust="spacingAndGlyphs">12.62</text>
<text x="502.2" y="1288.3" font-family="Liberation Sans, sans-serif" font-size="25.5" font-weight="400" fill="#ffffff" textLength="77.1" lengthAdjust="spacingAndGlyphs" stroke="#ffffff" stroke-width="0.5">IDAHO</text>
<text x="383.8" y="1404.7" font-family="Liberation Sans, sans-serif" font-size="32.0" font-weight="700" fill="#ffffff" textLength="81.9" lengthAdjust="spacingAndGlyphs">17.03</text>
<text x="387.8" y="1438.4" font-family="Liberation Sans, sans-serif" font-size="25.5" font-weight="400" fill="#ffffff" textLength="100.0" lengthAdjust="spacingAndGlyphs" stroke="#ffffff" stroke-width="0.5">NEVADA</text>
<text x="543.2" y="1470.6" font-family="Liberation Sans, sans-serif" font-size="32.0" font-weight="700" fill="#ffffff" textLength="86.3" lengthAdjust="spacingAndGlyphs">15.48</text>
<text x="546.4" y="1503.9" font-family="Liberation Sans, sans-serif" font-size="25.5" font-weight="400" fill="#ffffff" textLength="66.2" lengthAdjust="spacingAndGlyphs" stroke="#ffffff" stroke-width="0.5">UTAH</text>
<text x="706.5" y="1470.6" font-family="Liberation Sans, sans-serif" font-size="32.0" font-weight="700" fill="#ffffff" textLength="77.5" lengthAdjust="spacingAndGlyphs">28.11</text>
<text x="707.7" y="1503.9" font-family="Liberation Sans, sans-serif" font-size="25.5" font-weight="400" fill="#ffffff" textLength="138.5" lengthAdjust="spacingAndGlyphs" stroke="#ffffff" stroke-width="0.5">COLORADO</text>
<text x="917.6" y="1385.5" font-family="Liberation Sans, sans-serif" font-size="32.0" font-weight="700" fill="#ffffff" textLength="75.1" lengthAdjust="spacingAndGlyphs">15.11</text>
<text x="918.4" y="1418.4" font-family="Liberation Sans, sans-serif" font-size="25.5" font-weight="400" fill="#ffffff" textLength="132.5" lengthAdjust="spacingAndGlyphs" stroke="#ffffff" stroke-width="0.5">NEBRASKA</text>
<text x="1105.9" y="1366.6" font-family="Liberation Sans, sans-serif" font-size="32.0" font-weight="700" fill="#ffffff" textLength="72.2" lengthAdjust="spacingAndGlyphs">9.40</text>
<text x="1107.0" y="1398.3" font-family="Liberation Sans, sans-serif" font-size="25.5" font-weight="400" fill="#ffffff" textLength="63.0" lengthAdjust="spacingAndGlyphs" stroke="#ffffff" stroke-width="0.5">IOWA</text>
<text x="943.7" y="1519.3" font-family="Liberation Sans, sans-serif" font-size="32.0" font-weight="700" fill="#ffffff" textLength="85.1" lengthAdjust="spacingAndGlyphs">12.23</text>
<text x="949.0" y="1551.0" font-family="Liberation Sans, sans-serif" font-size="25.5" font-weight="400" fill="#ffffff" textLength="99.5" lengthAdjust="spacingAndGlyphs" stroke="#ffffff" stroke-width="0.5">KANSAS</text>
<text x="1137.0" y="1530.0" font-family="Liberation Sans, sans-serif" font-size="32.0" font-weight="700" fill="#ffffff" textLength="86.5" lengthAdjust="spacingAndGlyphs">16.66</text>
<text x="1142.4" y="1562.0" font-family="Liberation Sans, sans-serif" font-size="25.5" font-weight="400" fill="#ffffff" textLength="122.1" lengthAdjust="spacingAndGlyphs" stroke="#ffffff" stroke-width="0.5">MISSOURI</text>
<text x="1444.2" y="1426.8" font-family="Liberation Sans, sans-serif" font-size="32.0" font-weight="700" fill="#ffffff" textLength="78.2" lengthAdjust="spacingAndGlyphs">17.18</text>
<text x="1445.4" y="1458.9" font-family="Liberation Sans, sans-serif" font-size="25.5" font-weight="400" fill="#ffffff" textLength="59.8" lengthAdjust="spacingAndGlyphs" stroke="#ffffff" stroke-width="0.5">OHIO</text>
<text x="504.2" y="1656.7" font-family="Liberation Sans, sans-serif" font-size="32.0" font-weight="700" fill="#ffffff" textLength="92.4" lengthAdjust="spacingAndGlyphs">24.70</text>
<text x="504.2" y="1688.8" font-family="Liberation Sans, sans-serif" font-size="25.5" font-weight="400" fill="#ffffff" textLength="110.4" lengthAdjust="spacingAndGlyphs" stroke="#ffffff" stroke-width="0.5">ARIZONA</text>
<text x="685.7" y="1656.7" font-family="Liberation Sans, sans-serif" font-size="32.0" font-weight="700" fill="#ffffff" textLength="88.3" lengthAdjust="spacingAndGlyphs">10.09</text>
<text x="686.9" y="1688.8" font-family="Liberation Sans, sans-serif" font-size="25.5" font-weight="400" fill="#ffffff" textLength="53.1" lengthAdjust="spacingAndGlyphs" stroke="#ffffff" stroke-width="0.5">NEW</text>
<text x="686.9" y="1718.9" font-family="Liberation Sans, sans-serif" font-size="25.5" font-weight="400" fill="#ffffff" textLength="95.9" lengthAdjust="spacingAndGlyphs" stroke="#ffffff" stroke-width="0.5">MEXICO</text>
<text x="974.0" y="1634.7" font-family="Liberation Sans, sans-serif" font-size="32.0" font-weight="700" fill="#ffffff" textLength="85.5" lengthAdjust="spacingAndGlyphs">12.20</text>
<text x="977.2" y="1667.1" font-family="Liberation Sans, sans-serif" font-size="25.5" font-weight="400" fill="#ffffff" textLength="141.0" lengthAdjust="spacingAndGlyphs" stroke="#ffffff" stroke-width="0.5">OKLAHOMA</text>
<text x="933.6" y="1821.8" font-family="Liberation Sans, sans-serif" font-size="32.0" font-weight="700" fill="#ffffff" textLength="80.2" lengthAdjust="spacingAndGlyphs">19.61</text>
<text x="939.2" y="1855.4" font-family="Liberation Sans, sans-serif" font-size="25.5" font-weight="400" fill="#ffffff" textLength="80.6" lengthAdjust="spacingAndGlyphs" stroke="#ffffff" stroke-width="0.5">TEXAS</text>
<rect x="0" y="2300" width="2126" height="122" fill="#ffffff"/>
<rect x="0" y="2422" width="2126" height="138" fill="#242021"/>
<text x="93.3" y="2370.2" font-family="Liberation Sans, sans-serif" font-size="25.5" font-weight="700" fill="#272324" textLength="173.7" lengthAdjust="spacingAndGlyphs">Methodology:</text>
<text x="275.5" y="2370.2" font-family="Liberation Sans, sans-serif" font-size="25.5" font-weight="400" fill="#272324" textLength="1763.9" lengthAdjust="spacingAndGlyphs">We calculated the average number of applicants that job adverts receive within one week of being posted on LinkedIn Jobs in every U.S. state.</text>
<text x="312.1" y="2480.0" font-family="Liberation Sans, sans-serif" font-size="25.5" font-weight="400" fill="#ecebeb" textLength="1146.0" lengthAdjust="spacingAndGlyphs">This image is licensed under the Creative Commons Attribution-Share Alike 4.0 International License</text>
<text x="312.1" y="2515.3" font-family="Liberation Sans, sans-serif" font-size="25.5" font-weight="400" fill="#ecebeb" textLength="535.0" lengthAdjust="spacingAndGlyphs">www.creativecommons.org/licenses/by-sa/4.0</text>
<g><rect x="93.3" y="2455" width="189" height="65" rx="2" fill="#aab2ab" stroke="#111" stroke-width="1.5"/>
<path d="M93.3,2497 H113 Q122,2506 135,2507 H282.3 V2520 H93.3 Z" fill="#0d0d0d"/>
<rect x="150" y="2502" width="132.3" height="18" fill="#0d0d0d"/>
<circle cx="127" cy="2484" r="21" fill="#ffffff" stroke="#0d0d0d" stroke-width="4"/>
<text x="127.0" y="2491.0" font-family="Liberation Sans, sans-serif" font-size="22.0" font-weight="700" fill="#0d0d0d" text-anchor="middle">cc</text>
<circle cx="176" cy="2478" r="16" fill="#ffffff" stroke="#0d0d0d" stroke-width="3.5"/>
<circle cx="215" cy="2478" r="16" fill="#ffffff" stroke="#0d0d0d" stroke-width="3.5"/>
<circle cx="255" cy="2478" r="16" fill="#ffffff" stroke="#0d0d0d" stroke-width="3.5"/>
<circle cx="176" cy="2469" r="3" fill="#0d0d0d"/><rect x="171.5" y="2473" width="9" height="10" rx="1.5" fill="#0d0d0d"/><rect x="173.5" y="2481" width="5" height="9" fill="#0d0d0d"/>
<text x="215.0" y="2486.0" font-family="Liberation Sans, sans-serif" font-size="22.0" font-weight="700" fill="#0d0d0d" text-anchor="middle">$</text>
<line x1="203" y1="2471" x2="227" y2="2485" stroke="#ffffff" stroke-width="5"/><line x1="202" y1="2471" x2="228" y2="2486" stroke="#0d0d0d" stroke-width="2.5"/>
<path d="M248,2478 A7,7 0 1 0 255,2471" fill="none" stroke="#0d0d0d" stroke-width="3.5"/><polygon points="243.5,2477 252.5,2477 248,2483" fill="#0d0d0d"/>
<text x="174.0" y="2516.0" font-family="Liberation Sans, sans-serif" font-size="12.5" font-weight="700" fill="#ffffff" text-anchor="middle">BY</text>
<text x="215.0" y="2516.0" font-family="Liberation Sans, sans-serif" font-size="12.5" font-weight="700" fill="#ffffff" text-anchor="middle">NC</text>
<text x="256.0" y="2516.0" font-family="Liberation Sans, sans-serif" font-size="12.5" font-weight="700" fill="#ffffff" text-anchor="middle">SA</text>
</g>
<rect x="1781.8" y="2455.4" width="42" height="41.6" fill="#2f8cee"/>
<rect x="1769.6" y="2475" width="34.7" height="34.6" fill="#9fd3ff"/>
<path d="M1781.8,2475 H1804.3 V2497 A22.5,22 0 0 1 1781.8,2475 Z" fill="#ffffff"/>
<text x="1844.1" y="2495.7" font-family="Liberation Sans, sans-serif" font-size="43.5" font-weight="400" fill="#ffffff" textLength="188.6" lengthAdjust="spacingAndGlyphs" stroke="#ffffff" stroke-width="1.2">resume.io</text>
<text x="1924.7" y="2527.5" font-family="Liberation Sans, sans-serif" font-size="20.0" font-weight="400" fill="#8e96b8" textLength="107.0" lengthAdjust="spacingAndGlyphs">by career.io</text>
</svg>
</body></html>
